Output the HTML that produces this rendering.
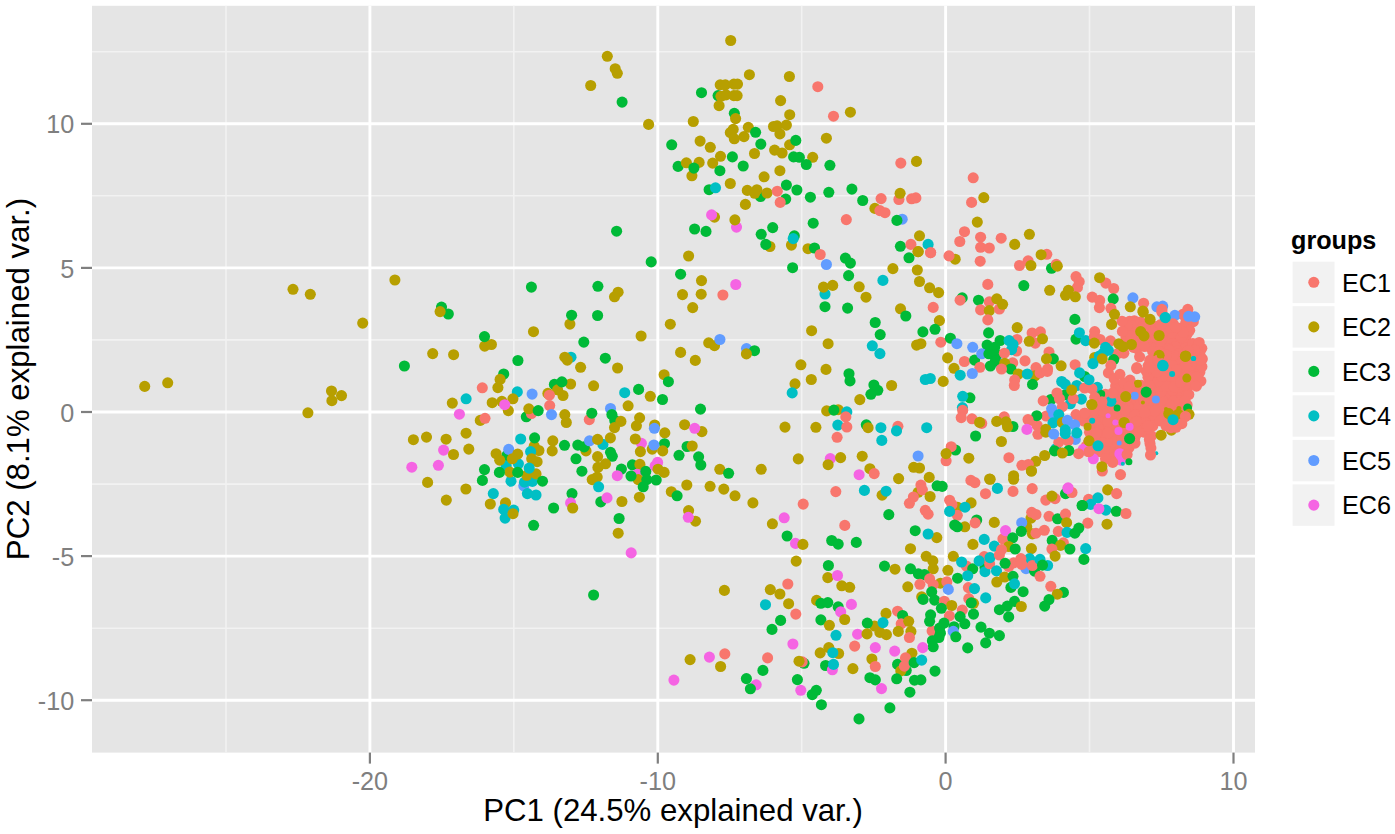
<!DOCTYPE html><html><head><meta charset="utf-8"><style>html,body{margin:0;padding:0;background:#fff}svg{display:block}text{font-family:"Liberation Sans",sans-serif}</style></head><body>
<svg width="1395" height="834" viewBox="0 0 1395 834">
<rect width="1395" height="834" fill="#fff"/>
<rect x="92.0" y="5.8" width="1163.0" height="746.8000000000001" fill="#E5E5E5"/>
<g stroke="#F2F2F2" stroke-width="1.6">
<line x1="226.0" x2="226.0" y1="5.8" y2="752.6"/>
<line x1="513.8" x2="513.8" y1="5.8" y2="752.6"/>
<line x1="801.7" x2="801.7" y1="5.8" y2="752.6"/>
<line x1="1089.5" x2="1089.5" y1="5.8" y2="752.6"/>
<line y1="51.7" y2="51.7" x1="92.0" x2="1255.0"/>
<line y1="195.8" y2="195.8" x1="92.0" x2="1255.0"/>
<line y1="339.9" y2="339.9" x1="92.0" x2="1255.0"/>
<line y1="484.1" y2="484.1" x1="92.0" x2="1255.0"/>
<line y1="628.2" y2="628.2" x1="92.0" x2="1255.0"/>
</g>
<g stroke="#FFFFFF" stroke-width="2.9">
<line x1="369.9" x2="369.9" y1="5.8" y2="752.6"/>
<line x1="657.8" x2="657.8" y1="5.8" y2="752.6"/>
<line x1="945.6" x2="945.6" y1="5.8" y2="752.6"/>
<line x1="1233.5" x2="1233.5" y1="5.8" y2="752.6"/>
<line y1="123.8" y2="123.8" x1="92.0" x2="1255.0"/>
<line y1="267.9" y2="267.9" x1="92.0" x2="1255.0"/>
<line y1="412.0" y2="412.0" x1="92.0" x2="1255.0"/>
<line y1="556.1" y2="556.1" x1="92.0" x2="1255.0"/>
<line y1="700.2" y2="700.2" x1="92.0" x2="1255.0"/>
</g>
<g stroke="#7F7F7F" stroke-width="2.2">
<line x1="369.9" x2="369.9" y1="752.6" y2="763.6"/>
<line x1="657.8" x2="657.8" y1="752.6" y2="763.6"/>
<line x1="945.6" x2="945.6" y1="752.6" y2="763.6"/>
<line x1="1233.5" x2="1233.5" y1="752.6" y2="763.6"/>
<line y1="123.8" y2="123.8" x1="81.0" x2="92.0"/>
<line y1="267.9" y2="267.9" x1="81.0" x2="92.0"/>
<line y1="412.0" y2="412.0" x1="81.0" x2="92.0"/>
<line y1="556.1" y2="556.1" x1="81.0" x2="92.0"/>
<line y1="700.2" y2="700.2" x1="81.0" x2="92.0"/>
</g>
<g fill="#7F7F7F" font-size="25.2">
<text x="369.9" y="790.3" text-anchor="middle">-20</text>
<text x="657.8" y="790.3" text-anchor="middle">-10</text>
<text x="945.6" y="790.3" text-anchor="middle">0</text>
<text x="1233.5" y="790.3" text-anchor="middle">10</text>
<text x="74.2" y="133.3" text-anchor="end">10</text>
<text x="74.2" y="277.5" text-anchor="end">5</text>
<text x="74.2" y="421.6" text-anchor="end">0</text>
<text x="74.2" y="565.7" text-anchor="end">-5</text>
<text x="74.2" y="709.9" text-anchor="end">-10</text>
</g>
<text x="673" y="820.6" font-size="31.2" text-anchor="middle" fill="#000">PC1 (24.5% explained var.)</text>
<text transform="translate(28.5,379) rotate(-90)" font-size="31.2" text-anchor="middle" fill="#000">PC2 (8.1% explained var.)</text>
<text x="1291" y="248.5" font-size="25.2" font-weight="bold" fill="#000">groups</text>
<rect x="1292.6" y="261.7" width="41.9" height="41.4" fill="#F2F2F2"/>
<circle cx="1313.8" cy="282.3" r="5.55" fill="#F8766D"/>
<text x="1342" y="291.5" font-size="25.2" fill="#000">EC1</text>
<rect x="1292.6" y="306.2" width="41.9" height="41.4" fill="#F2F2F2"/>
<circle cx="1313.8" cy="326.9" r="5.55" fill="#B79F00"/>
<text x="1342" y="336.1" font-size="25.2" fill="#000">EC2</text>
<rect x="1292.6" y="350.8" width="41.9" height="41.4" fill="#F2F2F2"/>
<circle cx="1313.8" cy="371.4" r="5.55" fill="#00BA38"/>
<text x="1342" y="380.6" font-size="25.2" fill="#000">EC3</text>
<rect x="1292.6" y="395.3" width="41.9" height="41.4" fill="#F2F2F2"/>
<circle cx="1313.8" cy="415.9" r="5.55" fill="#00BFC4"/>
<text x="1342" y="425.1" font-size="25.2" fill="#000">EC4</text>
<rect x="1292.6" y="439.9" width="41.9" height="41.4" fill="#F2F2F2"/>
<circle cx="1313.8" cy="460.5" r="5.55" fill="#619CFF"/>
<text x="1342" y="469.7" font-size="25.2" fill="#000">EC5</text>
<rect x="1292.6" y="484.4" width="41.9" height="41.4" fill="#F2F2F2"/>
<circle cx="1313.8" cy="505.1" r="5.55" fill="#F564E3"/>
<text x="1342" y="514.2" font-size="25.2" fill="#000">EC6</text>
<g>
<circle cx="1133.5" cy="347.4" r="5.55" fill="#F8766D"/>
<circle cx="1187.7" cy="333.1" r="5.55" fill="#F8766D"/>
<circle cx="1157.2" cy="326.4" r="5.55" fill="#F8766D"/>
<circle cx="1140.5" cy="322.0" r="5.55" fill="#F8766D"/>
<circle cx="1137.5" cy="326.8" r="5.55" fill="#F8766D"/>
<circle cx="1167.9" cy="358.6" r="5.55" fill="#F8766D"/>
<circle cx="1182.6" cy="362.9" r="5.55" fill="#F8766D"/>
<circle cx="1161.2" cy="338.7" r="5.55" fill="#F8766D"/>
<circle cx="1149.4" cy="326.5" r="5.55" fill="#F8766D"/>
<circle cx="1134.3" cy="320.7" r="5.55" fill="#F8766D"/>
<circle cx="1176.4" cy="362.6" r="5.55" fill="#F8766D"/>
<circle cx="1151.6" cy="338.6" r="5.55" fill="#F8766D"/>
<circle cx="1153.2" cy="341.2" r="5.55" fill="#F8766D"/>
<circle cx="1169.3" cy="338.1" r="5.55" fill="#F8766D"/>
<circle cx="1142.8" cy="327.0" r="5.55" fill="#F8766D"/>
<circle cx="1172.7" cy="337.3" r="5.55" fill="#F8766D"/>
<circle cx="1177.8" cy="343.5" r="5.55" fill="#F8766D"/>
<circle cx="1189.7" cy="352.5" r="5.55" fill="#F8766D"/>
<circle cx="1180.7" cy="346.8" r="5.55" fill="#F8766D"/>
<circle cx="1126.0" cy="337.5" r="5.55" fill="#F8766D"/>
<circle cx="1172.0" cy="351.5" r="5.55" fill="#F8766D"/>
<circle cx="1185.9" cy="336.7" r="5.55" fill="#F8766D"/>
<circle cx="1189.2" cy="362.2" r="5.55" fill="#F8766D"/>
<circle cx="1134.7" cy="342.9" r="5.55" fill="#F8766D"/>
<circle cx="1182.9" cy="341.1" r="5.55" fill="#F8766D"/>
<circle cx="1174.0" cy="357.9" r="5.55" fill="#F8766D"/>
<circle cx="1128.5" cy="332.3" r="5.55" fill="#F8766D"/>
<circle cx="1129.6" cy="321.3" r="5.55" fill="#F8766D"/>
<circle cx="1170.5" cy="362.8" r="5.55" fill="#F8766D"/>
<circle cx="1131.0" cy="325.5" r="5.55" fill="#F8766D"/>
<circle cx="1146.6" cy="341.0" r="5.55" fill="#F8766D"/>
<circle cx="1165.6" cy="343.2" r="5.55" fill="#F8766D"/>
<circle cx="1172.3" cy="343.2" r="5.55" fill="#F8766D"/>
<circle cx="1160.3" cy="352.6" r="5.55" fill="#F8766D"/>
<circle cx="1127.3" cy="325.5" r="5.55" fill="#F8766D"/>
<circle cx="1175.2" cy="346.7" r="5.55" fill="#F8766D"/>
<circle cx="1186.8" cy="357.4" r="5.55" fill="#F8766D"/>
<circle cx="1179.3" cy="358.5" r="5.55" fill="#F8766D"/>
<circle cx="1162.6" cy="326.9" r="5.55" fill="#F8766D"/>
<circle cx="1144.2" cy="338.2" r="5.55" fill="#F8766D"/>
<circle cx="1186.0" cy="369.7" r="5.55" fill="#F8766D"/>
<circle cx="1167.8" cy="327.9" r="5.55" fill="#F8766D"/>
<circle cx="1175.2" cy="367.3" r="5.55" fill="#F8766D"/>
<circle cx="1179.2" cy="368.2" r="5.55" fill="#F8766D"/>
<circle cx="1178.7" cy="352.8" r="5.55" fill="#F8766D"/>
<circle cx="1135.2" cy="332.7" r="5.55" fill="#F8766D"/>
<circle cx="1176.2" cy="332.9" r="5.55" fill="#F8766D"/>
<circle cx="1137.1" cy="348.7" r="5.55" fill="#F8766D"/>
<circle cx="1138.9" cy="336.3" r="5.55" fill="#F8766D"/>
<circle cx="1185.7" cy="347.8" r="5.55" fill="#F8766D"/>
<circle cx="1151.0" cy="347.8" r="5.55" fill="#F8766D"/>
<circle cx="1161.5" cy="346.5" r="5.55" fill="#F8766D"/>
<circle cx="1148.0" cy="330.6" r="5.55" fill="#F8766D"/>
<circle cx="1183.6" cy="333.4" r="5.55" fill="#F8766D"/>
<circle cx="1182.0" cy="352.8" r="5.55" fill="#F8766D"/>
<circle cx="1131.0" cy="336.1" r="5.55" fill="#F8766D"/>
<circle cx="1142.6" cy="331.9" r="5.55" fill="#F8766D"/>
<circle cx="1160.1" cy="333.5" r="5.55" fill="#F8766D"/>
<circle cx="1155.4" cy="347.8" r="5.55" fill="#F8766D"/>
<circle cx="1161.8" cy="358.5" r="5.55" fill="#F8766D"/>
<circle cx="1181.1" cy="337.0" r="5.55" fill="#F8766D"/>
<circle cx="1153.0" cy="331.6" r="5.55" fill="#F8766D"/>
<circle cx="1168.1" cy="348.5" r="5.55" fill="#F8766D"/>
<circle cx="1122.4" cy="331.4" r="5.55" fill="#F8766D"/>
<circle cx="1171.1" cy="332.8" r="5.55" fill="#F8766D"/>
<circle cx="1156.3" cy="337.9" r="5.55" fill="#F8766D"/>
<circle cx="1179.9" cy="328.2" r="5.55" fill="#F8766D"/>
<circle cx="1142.3" cy="341.3" r="5.55" fill="#F8766D"/>
<circle cx="1144.5" cy="346.5" r="5.55" fill="#F8766D"/>
<circle cx="1163.9" cy="331.3" r="5.55" fill="#F8766D"/>
<circle cx="1160.5" cy="341.5" r="5.55" fill="#F8766D"/>
<circle cx="1164.0" cy="352.6" r="5.55" fill="#F8766D"/>
<circle cx="1122.0" cy="321.2" r="5.55" fill="#F8766D"/>
<circle cx="1201.8" cy="348.3" r="5.55" fill="#F8766D"/>
<circle cx="1192.9" cy="343.6" r="5.55" fill="#F8766D"/>
<circle cx="1197.0" cy="347.3" r="5.55" fill="#F8766D"/>
<circle cx="1199.2" cy="342.5" r="5.55" fill="#F8766D"/>
<circle cx="1202.3" cy="359.0" r="5.55" fill="#F8766D"/>
<circle cx="1192.2" cy="364.2" r="5.55" fill="#F8766D"/>
<circle cx="1200.3" cy="356.0" r="5.55" fill="#F8766D"/>
<circle cx="1193.9" cy="355.6" r="5.55" fill="#F8766D"/>
<circle cx="1190.4" cy="358.9" r="5.55" fill="#F8766D"/>
<circle cx="1196.9" cy="361.5" r="5.55" fill="#F8766D"/>
<circle cx="1168.4" cy="412.6" r="5.55" fill="#F8766D"/>
<circle cx="1131.9" cy="410.7" r="5.55" fill="#F8766D"/>
<circle cx="1117.2" cy="396.8" r="5.55" fill="#F8766D"/>
<circle cx="1166.5" cy="391.6" r="5.55" fill="#F8766D"/>
<circle cx="1112.5" cy="422.1" r="5.55" fill="#F8766D"/>
<circle cx="1098.4" cy="438.6" r="5.55" fill="#F8766D"/>
<circle cx="1114.7" cy="453.2" r="5.55" fill="#F8766D"/>
<circle cx="1151.7" cy="386.6" r="5.55" fill="#F8766D"/>
<circle cx="1103.7" cy="437.3" r="5.55" fill="#F8766D"/>
<circle cx="1111.5" cy="407.3" r="5.55" fill="#F8766D"/>
<circle cx="1190.1" cy="380.8" r="5.55" fill="#F8766D"/>
<circle cx="1116.1" cy="447.3" r="5.55" fill="#F8766D"/>
<circle cx="1120.3" cy="411.0" r="5.55" fill="#F8766D"/>
<circle cx="1096.1" cy="451.3" r="5.55" fill="#F8766D"/>
<circle cx="1107.1" cy="412.5" r="5.55" fill="#F8766D"/>
<circle cx="1131.6" cy="422.7" r="5.55" fill="#F8766D"/>
<circle cx="1182.7" cy="386.5" r="5.55" fill="#F8766D"/>
<circle cx="1169.2" cy="417.8" r="5.55" fill="#F8766D"/>
<circle cx="1141.2" cy="416.2" r="5.55" fill="#F8766D"/>
<circle cx="1170.2" cy="384.1" r="5.55" fill="#F8766D"/>
<circle cx="1144.6" cy="432.3" r="5.55" fill="#F8766D"/>
<circle cx="1150.8" cy="420.8" r="5.55" fill="#F8766D"/>
<circle cx="1122.7" cy="395.1" r="5.55" fill="#F8766D"/>
<circle cx="1150.0" cy="443.4" r="5.55" fill="#F8766D"/>
<circle cx="1091.4" cy="446.1" r="5.55" fill="#F8766D"/>
<circle cx="1086.1" cy="446.4" r="5.55" fill="#F8766D"/>
<circle cx="1134.7" cy="385.8" r="5.55" fill="#F8766D"/>
<circle cx="1100.0" cy="451.7" r="5.55" fill="#F8766D"/>
<circle cx="1105.0" cy="448.4" r="5.55" fill="#F8766D"/>
<circle cx="1128.3" cy="438.2" r="5.55" fill="#F8766D"/>
<circle cx="1180.7" cy="401.4" r="5.55" fill="#F8766D"/>
<circle cx="1114.3" cy="401.3" r="5.55" fill="#F8766D"/>
<circle cx="1116.3" cy="457.2" r="5.55" fill="#F8766D"/>
<circle cx="1130.4" cy="401.0" r="5.55" fill="#F8766D"/>
<circle cx="1109.5" cy="415.1" r="5.55" fill="#F8766D"/>
<circle cx="1153.0" cy="396.8" r="5.55" fill="#F8766D"/>
<circle cx="1122.5" cy="414.9" r="5.55" fill="#F8766D"/>
<circle cx="1122.9" cy="384.4" r="5.55" fill="#F8766D"/>
<circle cx="1139.0" cy="411.8" r="5.55" fill="#F8766D"/>
<circle cx="1102.3" cy="431.8" r="5.55" fill="#F8766D"/>
<circle cx="1146.8" cy="417.8" r="5.55" fill="#F8766D"/>
<circle cx="1165.5" cy="405.6" r="5.55" fill="#F8766D"/>
<circle cx="1099.4" cy="395.8" r="5.55" fill="#F8766D"/>
<circle cx="1083.9" cy="421.0" r="5.55" fill="#F8766D"/>
<circle cx="1104.1" cy="416.2" r="5.55" fill="#F8766D"/>
<circle cx="1148.6" cy="390.3" r="5.55" fill="#F8766D"/>
<circle cx="1110.1" cy="395.2" r="5.55" fill="#F8766D"/>
<circle cx="1092.8" cy="436.4" r="5.55" fill="#F8766D"/>
<circle cx="1168.2" cy="422.7" r="5.55" fill="#F8766D"/>
<circle cx="1135.9" cy="404.7" r="5.55" fill="#F8766D"/>
<circle cx="1100.7" cy="400.8" r="5.55" fill="#F8766D"/>
<circle cx="1088.2" cy="451.5" r="5.55" fill="#F8766D"/>
<circle cx="1178.9" cy="412.6" r="5.55" fill="#F8766D"/>
<circle cx="1093.6" cy="427.2" r="5.55" fill="#F8766D"/>
<circle cx="1097.4" cy="416.9" r="5.55" fill="#F8766D"/>
<circle cx="1170.7" cy="394.4" r="5.55" fill="#F8766D"/>
<circle cx="1174.7" cy="421.5" r="5.55" fill="#F8766D"/>
<circle cx="1116.4" cy="437.0" r="5.55" fill="#F8766D"/>
<circle cx="1177.1" cy="407.2" r="5.55" fill="#F8766D"/>
<circle cx="1104.8" cy="427.6" r="5.55" fill="#F8766D"/>
<circle cx="1111.6" cy="438.4" r="5.55" fill="#F8766D"/>
<circle cx="1115.6" cy="385.9" r="5.55" fill="#F8766D"/>
<circle cx="1140.4" cy="396.4" r="5.55" fill="#F8766D"/>
<circle cx="1102.0" cy="422.4" r="5.55" fill="#F8766D"/>
<circle cx="1172.7" cy="411.2" r="5.55" fill="#F8766D"/>
<circle cx="1177.6" cy="417.2" r="5.55" fill="#F8766D"/>
<circle cx="1155.6" cy="389.6" r="5.55" fill="#F8766D"/>
<circle cx="1156.1" cy="420.3" r="5.55" fill="#F8766D"/>
<circle cx="1109.1" cy="447.6" r="5.55" fill="#F8766D"/>
<circle cx="1120.7" cy="441.1" r="5.55" fill="#F8766D"/>
<circle cx="1121.9" cy="457.2" r="5.55" fill="#F8766D"/>
<circle cx="1089.5" cy="432.3" r="5.55" fill="#F8766D"/>
<circle cx="1098.3" cy="427.6" r="5.55" fill="#F8766D"/>
<circle cx="1181.5" cy="406.2" r="5.55" fill="#F8766D"/>
<circle cx="1146.8" cy="394.3" r="5.55" fill="#F8766D"/>
<circle cx="1156.2" cy="400.3" r="5.55" fill="#F8766D"/>
<circle cx="1168.1" cy="402.1" r="5.55" fill="#F8766D"/>
<circle cx="1124.1" cy="441.5" r="5.55" fill="#F8766D"/>
<circle cx="1189.5" cy="384.3" r="5.55" fill="#F8766D"/>
<circle cx="1126.4" cy="421.3" r="5.55" fill="#F8766D"/>
<circle cx="1159.2" cy="415.6" r="5.55" fill="#F8766D"/>
<circle cx="1107.6" cy="402.0" r="5.55" fill="#F8766D"/>
<circle cx="1127.8" cy="427.1" r="5.55" fill="#F8766D"/>
<circle cx="1115.3" cy="415.5" r="5.55" fill="#F8766D"/>
<circle cx="1119.5" cy="399.6" r="5.55" fill="#F8766D"/>
<circle cx="1097.6" cy="447.6" r="5.55" fill="#F8766D"/>
<circle cx="1103.0" cy="406.7" r="5.55" fill="#F8766D"/>
<circle cx="1126.6" cy="400.9" r="5.55" fill="#F8766D"/>
<circle cx="1157.7" cy="396.9" r="5.55" fill="#F8766D"/>
<circle cx="1147.7" cy="386.0" r="5.55" fill="#F8766D"/>
<circle cx="1177.6" cy="395.0" r="5.55" fill="#F8766D"/>
<circle cx="1165.2" cy="395.7" r="5.55" fill="#F8766D"/>
<circle cx="1127.3" cy="415.3" r="5.55" fill="#F8766D"/>
<circle cx="1148.2" cy="432.6" r="5.55" fill="#F8766D"/>
<circle cx="1154.4" cy="381.0" r="5.55" fill="#F8766D"/>
<circle cx="1129.8" cy="395.2" r="5.55" fill="#F8766D"/>
<circle cx="1151.0" cy="404.9" r="5.55" fill="#F8766D"/>
<circle cx="1135.1" cy="415.1" r="5.55" fill="#F8766D"/>
<circle cx="1123.4" cy="426.0" r="5.55" fill="#F8766D"/>
<circle cx="1173.9" cy="400.9" r="5.55" fill="#F8766D"/>
<circle cx="1112.8" cy="441.9" r="5.55" fill="#F8766D"/>
<circle cx="1136.3" cy="391.1" r="5.55" fill="#F8766D"/>
<circle cx="1095.1" cy="410.8" r="5.55" fill="#F8766D"/>
<circle cx="1131.1" cy="391.8" r="5.55" fill="#F8766D"/>
<circle cx="1132.5" cy="431.3" r="5.55" fill="#F8766D"/>
<circle cx="1120.5" cy="389.9" r="5.55" fill="#F8766D"/>
<circle cx="1085.1" cy="415.0" r="5.55" fill="#F8766D"/>
<circle cx="1153.3" cy="415.2" r="5.55" fill="#F8766D"/>
<circle cx="1150.2" cy="381.2" r="5.55" fill="#F8766D"/>
<circle cx="1181.5" cy="394.5" r="5.55" fill="#F8766D"/>
<circle cx="1121.3" cy="447.0" r="5.55" fill="#F8766D"/>
<circle cx="1143.0" cy="421.2" r="5.55" fill="#F8766D"/>
<circle cx="1140.6" cy="428.2" r="5.55" fill="#F8766D"/>
<circle cx="1161.4" cy="412.6" r="5.55" fill="#F8766D"/>
<circle cx="1105.5" cy="394.2" r="5.55" fill="#F8766D"/>
<circle cx="1152.9" cy="425.8" r="5.55" fill="#F8766D"/>
<circle cx="1184.4" cy="380.7" r="5.55" fill="#F8766D"/>
<circle cx="1164.1" cy="417.1" r="5.55" fill="#F8766D"/>
<circle cx="1081.9" cy="416.1" r="5.55" fill="#F8766D"/>
<circle cx="1149.4" cy="411.0" r="5.55" fill="#F8766D"/>
<circle cx="1100.8" cy="442.8" r="5.55" fill="#F8766D"/>
<circle cx="1095.3" cy="421.7" r="5.55" fill="#F8766D"/>
<circle cx="1147.6" cy="405.0" r="5.55" fill="#F8766D"/>
<circle cx="1137.1" cy="399.5" r="5.55" fill="#F8766D"/>
<circle cx="1151.5" cy="435.8" r="5.55" fill="#F8766D"/>
<circle cx="1092.7" cy="415.0" r="5.55" fill="#F8766D"/>
<circle cx="1096.9" cy="401.4" r="5.55" fill="#F8766D"/>
<circle cx="1169.4" cy="404.9" r="5.55" fill="#F8766D"/>
<circle cx="1088.4" cy="442.8" r="5.55" fill="#F8766D"/>
<circle cx="1120.1" cy="430.7" r="5.55" fill="#F8766D"/>
<circle cx="1143.4" cy="389.3" r="5.55" fill="#F8766D"/>
<circle cx="1179.4" cy="390.5" r="5.55" fill="#F8766D"/>
<circle cx="1124.1" cy="389.3" r="5.55" fill="#F8766D"/>
<circle cx="1091.0" cy="422.6" r="5.55" fill="#F8766D"/>
<circle cx="1140.0" cy="404.7" r="5.55" fill="#F8766D"/>
<circle cx="1119.3" cy="422.9" r="5.55" fill="#F8766D"/>
<circle cx="1158.6" cy="405.7" r="5.55" fill="#F8766D"/>
<circle cx="1147.9" cy="425.9" r="5.55" fill="#F8766D"/>
<circle cx="1187.1" cy="404.9" r="5.55" fill="#F8766D"/>
<circle cx="1157.4" cy="384.9" r="5.55" fill="#F8766D"/>
<circle cx="1128.8" cy="385.3" r="5.55" fill="#F8766D"/>
<circle cx="1126.0" cy="432.1" r="5.55" fill="#F8766D"/>
<circle cx="1095.0" cy="441.7" r="5.55" fill="#F8766D"/>
<circle cx="1134.8" cy="437.7" r="5.55" fill="#F8766D"/>
<circle cx="1125.1" cy="452.9" r="5.55" fill="#F8766D"/>
<circle cx="1134.5" cy="395.0" r="5.55" fill="#F8766D"/>
<circle cx="1122.1" cy="438.1" r="5.55" fill="#F8766D"/>
<circle cx="1141.3" cy="385.4" r="5.55" fill="#F8766D"/>
<circle cx="1107.4" cy="441.5" r="5.55" fill="#F8766D"/>
<circle cx="1113.8" cy="430.7" r="5.55" fill="#F8766D"/>
<circle cx="1132.3" cy="441.8" r="5.55" fill="#F8766D"/>
<circle cx="1154.8" cy="411.0" r="5.55" fill="#F8766D"/>
<circle cx="1102.4" cy="410.9" r="5.55" fill="#F8766D"/>
<circle cx="1144.7" cy="412.6" r="5.55" fill="#F8766D"/>
<circle cx="1114.1" cy="411.3" r="5.55" fill="#F8766D"/>
<circle cx="1135.7" cy="427.6" r="5.55" fill="#F8766D"/>
<circle cx="1136.5" cy="433.3" r="5.55" fill="#F8766D"/>
<circle cx="1186.0" cy="390.4" r="5.55" fill="#F8766D"/>
<circle cx="1163.3" cy="386.0" r="5.55" fill="#F8766D"/>
<circle cx="1100.0" cy="405.0" r="5.55" fill="#F8766D"/>
<circle cx="1115.6" cy="406.6" r="5.55" fill="#F8766D"/>
<circle cx="1188.8" cy="394.5" r="5.55" fill="#F8766D"/>
<circle cx="1108.1" cy="451.8" r="5.55" fill="#F8766D"/>
<circle cx="1127.8" cy="406.6" r="5.55" fill="#F8766D"/>
<circle cx="1175.1" cy="385.1" r="5.55" fill="#F8766D"/>
<circle cx="1150.0" cy="400.3" r="5.55" fill="#F8766D"/>
<circle cx="1096.5" cy="433.1" r="5.55" fill="#F8766D"/>
<circle cx="1116.5" cy="427.3" r="5.55" fill="#F8766D"/>
<circle cx="1129.0" cy="447.7" r="5.55" fill="#F8766D"/>
<circle cx="1136.5" cy="421.4" r="5.55" fill="#F8766D"/>
<circle cx="1172.6" cy="390.4" r="5.55" fill="#F8766D"/>
<circle cx="1109.5" cy="425.4" r="5.55" fill="#F8766D"/>
<circle cx="1185.1" cy="401.3" r="5.55" fill="#F8766D"/>
<circle cx="1108.0" cy="433.1" r="5.55" fill="#F8766D"/>
<circle cx="1111.9" cy="457.9" r="5.55" fill="#F8766D"/>
<circle cx="1121.6" cy="404.9" r="5.55" fill="#F8766D"/>
<circle cx="1125.3" cy="409.8" r="5.55" fill="#F8766D"/>
<circle cx="1107.9" cy="421.5" r="5.55" fill="#F8766D"/>
<circle cx="1144.3" cy="401.2" r="5.55" fill="#F8766D"/>
<circle cx="1160.2" cy="420.9" r="5.55" fill="#F8766D"/>
<circle cx="1130.0" cy="380.1" r="5.55" fill="#F8766D"/>
<circle cx="1162.0" cy="399.8" r="5.55" fill="#F8766D"/>
<circle cx="1118.8" cy="452.4" r="5.55" fill="#F8766D"/>
<circle cx="1160.9" cy="391.7" r="5.55" fill="#F8766D"/>
<circle cx="1181.9" cy="359.1" r="5.55" fill="#F8766D"/>
<circle cx="1166.1" cy="365.6" r="5.55" fill="#F8766D"/>
<circle cx="1152.7" cy="351.4" r="5.55" fill="#F8766D"/>
<circle cx="1159.0" cy="351.3" r="5.55" fill="#F8766D"/>
<circle cx="1189.1" cy="370.9" r="5.55" fill="#F8766D"/>
<circle cx="1162.0" cy="365.6" r="5.55" fill="#F8766D"/>
<circle cx="1153.4" cy="361.5" r="5.55" fill="#F8766D"/>
<circle cx="1196.5" cy="367.1" r="5.55" fill="#F8766D"/>
<circle cx="1179.1" cy="387.4" r="5.55" fill="#F8766D"/>
<circle cx="1156.0" cy="375.3" r="5.55" fill="#F8766D"/>
<circle cx="1152.1" cy="381.9" r="5.55" fill="#F8766D"/>
<circle cx="1166.4" cy="376.1" r="5.55" fill="#F8766D"/>
<circle cx="1194.9" cy="370.3" r="5.55" fill="#F8766D"/>
<circle cx="1164.6" cy="382.1" r="5.55" fill="#F8766D"/>
<circle cx="1152.2" cy="371.0" r="5.55" fill="#F8766D"/>
<circle cx="1200.9" cy="381.1" r="5.55" fill="#F8766D"/>
<circle cx="1164.9" cy="359.6" r="5.55" fill="#F8766D"/>
<circle cx="1179.2" cy="366.0" r="5.55" fill="#F8766D"/>
<circle cx="1176.0" cy="359.5" r="5.55" fill="#F8766D"/>
<circle cx="1195.6" cy="354.0" r="5.55" fill="#F8766D"/>
<circle cx="1168.7" cy="369.4" r="5.55" fill="#F8766D"/>
<circle cx="1168.8" cy="361.0" r="5.55" fill="#F8766D"/>
<circle cx="1189.8" cy="365.7" r="5.55" fill="#F8766D"/>
<circle cx="1191.1" cy="356.7" r="5.55" fill="#F8766D"/>
<circle cx="1194.7" cy="350.1" r="5.55" fill="#F8766D"/>
<circle cx="1174.0" cy="376.5" r="5.55" fill="#F8766D"/>
<circle cx="1199.9" cy="372.1" r="5.55" fill="#F8766D"/>
<circle cx="1194.2" cy="361.0" r="5.55" fill="#F8766D"/>
<circle cx="1177.5" cy="351.0" r="5.55" fill="#F8766D"/>
<circle cx="1159.7" cy="386.0" r="5.55" fill="#F8766D"/>
<circle cx="1179.3" cy="353.9" r="5.55" fill="#F8766D"/>
<circle cx="1170.0" cy="382.2" r="5.55" fill="#F8766D"/>
<circle cx="1172.3" cy="365.6" r="5.55" fill="#F8766D"/>
<circle cx="1192.2" cy="376.4" r="5.55" fill="#F8766D"/>
<circle cx="1179.5" cy="375.9" r="5.55" fill="#F8766D"/>
<circle cx="1166.5" cy="386.2" r="5.55" fill="#F8766D"/>
<circle cx="1187.5" cy="359.8" r="5.55" fill="#F8766D"/>
<circle cx="1188.3" cy="350.5" r="5.55" fill="#F8766D"/>
<circle cx="1181.8" cy="370.7" r="5.55" fill="#F8766D"/>
<circle cx="1154.0" cy="387.2" r="5.55" fill="#F8766D"/>
<circle cx="1189.7" cy="385.2" r="5.55" fill="#F8766D"/>
<circle cx="1188.2" cy="382.6" r="5.55" fill="#F8766D"/>
<circle cx="1148.1" cy="365.8" r="5.55" fill="#F8766D"/>
<circle cx="1148.0" cy="377.2" r="5.55" fill="#F8766D"/>
<circle cx="1173.5" cy="355.1" r="5.55" fill="#F8766D"/>
<circle cx="1201.9" cy="366.7" r="5.55" fill="#F8766D"/>
<circle cx="1175.8" cy="381.2" r="5.55" fill="#F8766D"/>
<circle cx="1176.5" cy="370.0" r="5.55" fill="#F8766D"/>
<circle cx="1185.7" cy="365.7" r="5.55" fill="#F8766D"/>
<circle cx="1157.7" cy="381.6" r="5.55" fill="#F8766D"/>
<circle cx="1153.6" cy="367.1" r="5.55" fill="#F8766D"/>
<circle cx="1154.8" cy="356.4" r="5.55" fill="#F8766D"/>
<circle cx="1184.5" cy="377.2" r="5.55" fill="#F8766D"/>
<circle cx="1169.2" cy="350.3" r="5.55" fill="#F8766D"/>
<circle cx="1162.9" cy="369.5" r="5.55" fill="#F8766D"/>
<circle cx="1195.1" cy="382.3" r="5.55" fill="#F8766D"/>
<circle cx="1174.1" cy="386.8" r="5.55" fill="#F8766D"/>
<circle cx="1146.3" cy="371.3" r="5.55" fill="#F8766D"/>
<circle cx="1149.7" cy="385.9" r="5.55" fill="#F8766D"/>
<circle cx="1196.7" cy="376.7" r="5.55" fill="#F8766D"/>
<circle cx="1161.8" cy="376.5" r="5.55" fill="#F8766D"/>
<circle cx="1201.2" cy="360.1" r="5.55" fill="#F8766D"/>
<circle cx="1196.4" cy="386.2" r="5.55" fill="#F8766D"/>
<circle cx="1159.1" cy="359.7" r="5.55" fill="#F8766D"/>
<circle cx="1160.7" cy="356.7" r="5.55" fill="#F8766D"/>
<circle cx="1185.1" cy="385.4" r="5.55" fill="#F8766D"/>
<circle cx="1156.8" cy="371.8" r="5.55" fill="#F8766D"/>
<circle cx="1180.6" cy="382.4" r="5.55" fill="#F8766D"/>
<circle cx="1166.4" cy="355.1" r="5.55" fill="#F8766D"/>
<circle cx="1185.3" cy="356.6" r="5.55" fill="#F8766D"/>
<circle cx="144.7" cy="386.4" r="5.55" fill="#B79F00"/>
<circle cx="167.7" cy="382.8" r="5.55" fill="#B79F00"/>
<circle cx="293.0" cy="289.3" r="5.55" fill="#B79F00"/>
<circle cx="310.3" cy="294.3" r="5.55" fill="#B79F00"/>
<circle cx="362.7" cy="323.1" r="5.55" fill="#B79F00"/>
<circle cx="394.9" cy="280.0" r="5.55" fill="#B79F00"/>
<circle cx="331.5" cy="391.0" r="5.55" fill="#B79F00"/>
<circle cx="341.5" cy="395.6" r="5.55" fill="#B79F00"/>
<circle cx="331.9" cy="400.7" r="5.55" fill="#B79F00"/>
<circle cx="307.9" cy="412.8" r="5.55" fill="#B79F00"/>
<circle cx="404.4" cy="366.0" r="5.55" fill="#00BA38"/>
<circle cx="441.5" cy="307.1" r="5.55" fill="#00BA38"/>
<circle cx="448.3" cy="314.0" r="5.55" fill="#00BA38"/>
<circle cx="440.1" cy="311.6" r="5.55" fill="#B79F00"/>
<circle cx="531.4" cy="287.1" r="5.55" fill="#00BA38"/>
<circle cx="569.9" cy="324.1" r="5.55" fill="#B79F00"/>
<circle cx="571.6" cy="315.2" r="5.55" fill="#00BA38"/>
<circle cx="533.5" cy="331.7" r="5.55" fill="#B79F00"/>
<circle cx="484.7" cy="346.1" r="5.55" fill="#B79F00"/>
<circle cx="491.4" cy="344.5" r="5.55" fill="#B79F00"/>
<circle cx="484.5" cy="336.6" r="5.55" fill="#00BA38"/>
<circle cx="583.8" cy="342.1" r="5.55" fill="#00BA38"/>
<circle cx="432.7" cy="353.6" r="5.55" fill="#B79F00"/>
<circle cx="453.6" cy="354.7" r="5.55" fill="#B79F00"/>
<circle cx="517.9" cy="360.5" r="5.55" fill="#00BA38"/>
<circle cx="571.0" cy="357.2" r="5.55" fill="#00BFC4"/>
<circle cx="564.8" cy="357.2" r="5.55" fill="#B79F00"/>
<circle cx="567.3" cy="360.1" r="5.55" fill="#B79F00"/>
<circle cx="580.6" cy="367.3" r="5.55" fill="#B79F00"/>
<circle cx="482.3" cy="387.8" r="5.55" fill="#F8766D"/>
<circle cx="466.1" cy="398.8" r="5.55" fill="#00BFC4"/>
<circle cx="452.3" cy="403.1" r="5.55" fill="#B79F00"/>
<circle cx="459.4" cy="414.2" r="5.55" fill="#F564E3"/>
<circle cx="480.3" cy="420.4" r="5.55" fill="#B79F00"/>
<circle cx="485.0" cy="418.3" r="5.55" fill="#F8766D"/>
<circle cx="503.7" cy="374.0" r="5.55" fill="#00BA38"/>
<circle cx="497.9" cy="387.6" r="5.55" fill="#B79F00"/>
<circle cx="500.1" cy="379.4" r="5.55" fill="#B79F00"/>
<circle cx="517.3" cy="391.9" r="5.55" fill="#00BFC4"/>
<circle cx="512.9" cy="398.8" r="5.55" fill="#B79F00"/>
<circle cx="501.9" cy="401.3" r="5.55" fill="#B79F00"/>
<circle cx="508.3" cy="410.6" r="5.55" fill="#B79F00"/>
<circle cx="504.7" cy="404.7" r="5.55" fill="#F564E3"/>
<circle cx="492.2" cy="402.7" r="5.55" fill="#B79F00"/>
<circle cx="532.1" cy="394.1" r="5.55" fill="#619CFF"/>
<circle cx="554.4" cy="384.4" r="5.55" fill="#00BA38"/>
<circle cx="570.6" cy="384.0" r="5.55" fill="#B79F00"/>
<circle cx="557.6" cy="389.8" r="5.55" fill="#B79F00"/>
<circle cx="563.0" cy="395.5" r="5.55" fill="#B79F00"/>
<circle cx="561.9" cy="381.9" r="5.55" fill="#00BA38"/>
<circle cx="547.9" cy="393.4" r="5.55" fill="#B79F00"/>
<circle cx="549.7" cy="405.6" r="5.55" fill="#F8766D"/>
<circle cx="549.4" cy="395.2" r="5.55" fill="#F8766D"/>
<circle cx="551.5" cy="414.6" r="5.55" fill="#619CFF"/>
<circle cx="526.3" cy="416.8" r="5.55" fill="#00BA38"/>
<circle cx="531.4" cy="413.5" r="5.55" fill="#F8766D"/>
<circle cx="528.8" cy="408.8" r="5.55" fill="#B79F00"/>
<circle cx="538.2" cy="410.6" r="5.55" fill="#00BA38"/>
<circle cx="564.8" cy="414.6" r="5.55" fill="#B79F00"/>
<circle cx="566.3" cy="422.5" r="5.55" fill="#B79F00"/>
<circle cx="589.3" cy="419.6" r="5.55" fill="#F8766D"/>
<circle cx="413.4" cy="439.7" r="5.55" fill="#B79F00"/>
<circle cx="426.5" cy="437.1" r="5.55" fill="#B79F00"/>
<circle cx="446.1" cy="439.2" r="5.55" fill="#B79F00"/>
<circle cx="466.1" cy="433.2" r="5.55" fill="#B79F00"/>
<circle cx="443.6" cy="450.1" r="5.55" fill="#F564E3"/>
<circle cx="453.5" cy="454.5" r="5.55" fill="#B79F00"/>
<circle cx="468.8" cy="449.1" r="5.55" fill="#B79F00"/>
<circle cx="411.8" cy="467.2" r="5.55" fill="#F564E3"/>
<circle cx="438.4" cy="465.3" r="5.55" fill="#F564E3"/>
<circle cx="427.6" cy="482.4" r="5.55" fill="#B79F00"/>
<circle cx="484.5" cy="469.6" r="5.55" fill="#00BA38"/>
<circle cx="482.4" cy="480.4" r="5.55" fill="#00BA38"/>
<circle cx="465.9" cy="489.0" r="5.55" fill="#B79F00"/>
<circle cx="520.7" cy="439.0" r="5.55" fill="#00BFC4"/>
<circle cx="552.8" cy="440.8" r="5.55" fill="#B79F00"/>
<circle cx="552.2" cy="450.9" r="5.55" fill="#B79F00"/>
<circle cx="564.5" cy="445.3" r="5.55" fill="#00BA38"/>
<circle cx="577.8" cy="445.1" r="5.55" fill="#00BA38"/>
<circle cx="586.0" cy="450.9" r="5.55" fill="#B79F00"/>
<circle cx="584.2" cy="446.9" r="5.55" fill="#00BA38"/>
<circle cx="576.0" cy="458.8" r="5.55" fill="#00BA38"/>
<circle cx="581.9" cy="471.2" r="5.55" fill="#00BA38"/>
<circle cx="506.9" cy="455.5" r="5.55" fill="#00BA38"/>
<circle cx="506.2" cy="466.0" r="5.55" fill="#00BFC4"/>
<circle cx="518.4" cy="463.8" r="5.55" fill="#00BFC4"/>
<circle cx="496.1" cy="453.7" r="5.55" fill="#B79F00"/>
<circle cx="499.7" cy="460.2" r="5.55" fill="#B79F00"/>
<circle cx="508.7" cy="449.4" r="5.55" fill="#619CFF"/>
<circle cx="517.7" cy="454.1" r="5.55" fill="#B79F00"/>
<circle cx="512.3" cy="458.8" r="5.55" fill="#B79F00"/>
<circle cx="511.0" cy="481.2" r="5.55" fill="#00BFC4"/>
<circle cx="523.8" cy="485.8" r="5.55" fill="#619CFF"/>
<circle cx="524.5" cy="482.2" r="5.55" fill="#00BFC4"/>
<circle cx="532.4" cy="481.4" r="5.55" fill="#00BFC4"/>
<circle cx="509.8" cy="472.1" r="5.55" fill="#B79F00"/>
<circle cx="526.7" cy="475.3" r="5.55" fill="#B79F00"/>
<circle cx="536.0" cy="473.9" r="5.55" fill="#B79F00"/>
<circle cx="517.7" cy="472.4" r="5.55" fill="#00BA38"/>
<circle cx="499.4" cy="472.4" r="5.55" fill="#00BA38"/>
<circle cx="542.5" cy="481.2" r="5.55" fill="#00BA38"/>
<circle cx="534.2" cy="446.2" r="5.55" fill="#B79F00"/>
<circle cx="538.9" cy="450.5" r="5.55" fill="#B79F00"/>
<circle cx="534.6" cy="437.9" r="5.55" fill="#00BA38"/>
<circle cx="530.6" cy="451.6" r="5.55" fill="#00BFC4"/>
<circle cx="531.7" cy="458.8" r="5.55" fill="#B79F00"/>
<circle cx="537.1" cy="461.7" r="5.55" fill="#B79F00"/>
<circle cx="529.2" cy="468.1" r="5.55" fill="#00BFC4"/>
<circle cx="446.3" cy="500.1" r="5.55" fill="#B79F00"/>
<circle cx="493.3" cy="493.6" r="5.55" fill="#00BFC4"/>
<circle cx="490.3" cy="504.0" r="5.55" fill="#B79F00"/>
<circle cx="505.5" cy="502.9" r="5.55" fill="#B79F00"/>
<circle cx="503.7" cy="509.4" r="5.55" fill="#00BFC4"/>
<circle cx="513.7" cy="510.1" r="5.55" fill="#00BFC4"/>
<circle cx="505.1" cy="518.1" r="5.55" fill="#00BFC4"/>
<circle cx="513.0" cy="513.7" r="5.55" fill="#B79F00"/>
<circle cx="527.4" cy="493.6" r="5.55" fill="#00BFC4"/>
<circle cx="536.0" cy="495.0" r="5.55" fill="#00BFC4"/>
<circle cx="572.0" cy="493.6" r="5.55" fill="#00BA38"/>
<circle cx="570.6" cy="502.9" r="5.55" fill="#F564E3"/>
<circle cx="572.7" cy="508.0" r="5.55" fill="#B79F00"/>
<circle cx="553.6" cy="508.0" r="5.55" fill="#00BA38"/>
<circle cx="533.6" cy="525.3" r="5.55" fill="#00BA38"/>
<circle cx="607.3" cy="56.3" r="5.55" fill="#B79F00"/>
<circle cx="615.2" cy="68.7" r="5.55" fill="#B79F00"/>
<circle cx="617.3" cy="73.3" r="5.55" fill="#B79F00"/>
<circle cx="590.7" cy="85.5" r="5.55" fill="#B79F00"/>
<circle cx="622.1" cy="102.1" r="5.55" fill="#00BA38"/>
<circle cx="648.6" cy="124.4" r="5.55" fill="#B79F00"/>
<circle cx="730.7" cy="40.5" r="5.55" fill="#B79F00"/>
<circle cx="749.4" cy="74.7" r="5.55" fill="#B79F00"/>
<circle cx="789.4" cy="76.5" r="5.55" fill="#B79F00"/>
<circle cx="701.5" cy="92.7" r="5.55" fill="#00BA38"/>
<circle cx="718.1" cy="95.6" r="5.55" fill="#00BA38"/>
<circle cx="720.2" cy="84.8" r="5.55" fill="#B79F00"/>
<circle cx="725.3" cy="84.8" r="5.55" fill="#B79F00"/>
<circle cx="733.9" cy="84.1" r="5.55" fill="#B79F00"/>
<circle cx="737.5" cy="84.1" r="5.55" fill="#B79F00"/>
<circle cx="720.9" cy="96.3" r="5.55" fill="#B79F00"/>
<circle cx="726.0" cy="94.9" r="5.55" fill="#B79F00"/>
<circle cx="733.9" cy="95.6" r="5.55" fill="#B79F00"/>
<circle cx="737.1" cy="95.6" r="5.55" fill="#B79F00"/>
<circle cx="719.1" cy="105.7" r="5.55" fill="#B79F00"/>
<circle cx="734.3" cy="113.3" r="5.55" fill="#00BA38"/>
<circle cx="735.6" cy="118.6" r="5.55" fill="#B79F00"/>
<circle cx="693.3" cy="121.5" r="5.55" fill="#B79F00"/>
<circle cx="780.6" cy="100.6" r="5.55" fill="#B79F00"/>
<circle cx="733.2" cy="129.4" r="5.55" fill="#B79F00"/>
<circle cx="748.3" cy="127.3" r="5.55" fill="#B79F00"/>
<circle cx="773.5" cy="126.5" r="5.55" fill="#B79F00"/>
<circle cx="777.1" cy="125.8" r="5.55" fill="#B79F00"/>
<circle cx="786.4" cy="125.1" r="5.55" fill="#B79F00"/>
<circle cx="789.7" cy="114.7" r="5.55" fill="#B79F00"/>
<circle cx="671.7" cy="144.8" r="5.55" fill="#00BA38"/>
<circle cx="700.1" cy="141.1" r="5.55" fill="#B79F00"/>
<circle cx="710.3" cy="147.3" r="5.55" fill="#B79F00"/>
<circle cx="720.5" cy="156.3" r="5.55" fill="#B79F00"/>
<circle cx="712.7" cy="163.1" r="5.55" fill="#B79F00"/>
<circle cx="732.4" cy="156.9" r="5.55" fill="#00BA38"/>
<circle cx="719.9" cy="170.7" r="5.55" fill="#00BA38"/>
<circle cx="743.2" cy="166.0" r="5.55" fill="#00BA38"/>
<circle cx="678.1" cy="166.4" r="5.55" fill="#00BA38"/>
<circle cx="686.4" cy="162.8" r="5.55" fill="#B79F00"/>
<circle cx="699.1" cy="162.4" r="5.55" fill="#B79F00"/>
<circle cx="691.9" cy="175.8" r="5.55" fill="#B79F00"/>
<circle cx="693.9" cy="168.1" r="5.55" fill="#00BA38"/>
<circle cx="730.3" cy="183.5" r="5.55" fill="#B79F00"/>
<circle cx="709.1" cy="189.7" r="5.55" fill="#00BA38"/>
<circle cx="715.5" cy="187.8" r="5.55" fill="#00BFC4"/>
<circle cx="616.6" cy="231.2" r="5.55" fill="#00BA38"/>
<circle cx="694.6" cy="229.0" r="5.55" fill="#00BA38"/>
<circle cx="706.0" cy="231.4" r="5.55" fill="#00BA38"/>
<circle cx="714.5" cy="217.1" r="5.55" fill="#B79F00"/>
<circle cx="711.6" cy="214.9" r="5.55" fill="#F564E3"/>
<circle cx="736.5" cy="227.1" r="5.55" fill="#F564E3"/>
<circle cx="734.9" cy="219.9" r="5.55" fill="#B79F00"/>
<circle cx="745.4" cy="204.4" r="5.55" fill="#B79F00"/>
<circle cx="747.3" cy="190.4" r="5.55" fill="#B79F00"/>
<circle cx="760.5" cy="196.5" r="5.55" fill="#00BA38"/>
<circle cx="756.9" cy="189.7" r="5.55" fill="#B79F00"/>
<circle cx="754.7" cy="193.3" r="5.55" fill="#B79F00"/>
<circle cx="767.0" cy="193.0" r="5.55" fill="#B79F00"/>
<circle cx="785.7" cy="199.1" r="5.55" fill="#00BA38"/>
<circle cx="777.3" cy="191.2" r="5.55" fill="#F8766D"/>
<circle cx="780.2" cy="202.4" r="5.55" fill="#F8766D"/>
<circle cx="786.4" cy="185.1" r="5.55" fill="#00BA38"/>
<circle cx="764.1" cy="176.8" r="5.55" fill="#B79F00"/>
<circle cx="779.9" cy="170.7" r="5.55" fill="#B79F00"/>
<circle cx="754.5" cy="153.5" r="5.55" fill="#B79F00"/>
<circle cx="760.8" cy="144.1" r="5.55" fill="#00BA38"/>
<circle cx="774.6" cy="150.1" r="5.55" fill="#B79F00"/>
<circle cx="782.1" cy="153.0" r="5.55" fill="#B79F00"/>
<circle cx="789.6" cy="144.8" r="5.55" fill="#B79F00"/>
<circle cx="730.3" cy="132.6" r="5.55" fill="#B79F00"/>
<circle cx="734.3" cy="138.8" r="5.55" fill="#B79F00"/>
<circle cx="744.0" cy="136.6" r="5.55" fill="#B79F00"/>
<circle cx="755.6" cy="132.3" r="5.55" fill="#00BA38"/>
<circle cx="779.9" cy="133.9" r="5.55" fill="#B79F00"/>
<circle cx="761.2" cy="234.3" r="5.55" fill="#00BA38"/>
<circle cx="772.7" cy="227.6" r="5.55" fill="#00BA38"/>
<circle cx="769.9" cy="246.5" r="5.55" fill="#B79F00"/>
<circle cx="765.8" cy="244.4" r="5.55" fill="#00BA38"/>
<circle cx="688.6" cy="256.0" r="5.55" fill="#B79F00"/>
<circle cx="651.2" cy="261.9" r="5.55" fill="#00BA38"/>
<circle cx="680.6" cy="274.2" r="5.55" fill="#00BA38"/>
<circle cx="701.5" cy="280.6" r="5.55" fill="#B79F00"/>
<circle cx="735.8" cy="284.5" r="5.55" fill="#F564E3"/>
<circle cx="722.9" cy="295.0" r="5.55" fill="#F8766D"/>
<circle cx="682.5" cy="294.6" r="5.55" fill="#B79F00"/>
<circle cx="701.2" cy="294.2" r="5.55" fill="#B79F00"/>
<circle cx="692.7" cy="307.6" r="5.55" fill="#B79F00"/>
<circle cx="670.3" cy="324.2" r="5.55" fill="#B79F00"/>
<circle cx="641.1" cy="336.0" r="5.55" fill="#B79F00"/>
<circle cx="597.9" cy="286.3" r="5.55" fill="#00BA38"/>
<circle cx="618.1" cy="292.2" r="5.55" fill="#B79F00"/>
<circle cx="614.5" cy="296.8" r="5.55" fill="#B79F00"/>
<circle cx="597.6" cy="315.5" r="5.55" fill="#00BA38"/>
<circle cx="605.3" cy="358.2" r="5.55" fill="#00BA38"/>
<circle cx="617.6" cy="368.0" r="5.55" fill="#B79F00"/>
<circle cx="680.6" cy="352.4" r="5.55" fill="#B79F00"/>
<circle cx="695.3" cy="360.4" r="5.55" fill="#B79F00"/>
<circle cx="708.7" cy="342.8" r="5.55" fill="#B79F00"/>
<circle cx="714.5" cy="345.7" r="5.55" fill="#B79F00"/>
<circle cx="719.9" cy="339.5" r="5.55" fill="#619CFF"/>
<circle cx="746.5" cy="348.6" r="5.55" fill="#619CFF"/>
<circle cx="754.5" cy="350.7" r="5.55" fill="#00BA38"/>
<circle cx="746.4" cy="353.9" r="5.55" fill="#B79F00"/>
<circle cx="664.1" cy="374.7" r="5.55" fill="#B79F00"/>
<circle cx="668.4" cy="381.7" r="5.55" fill="#00BA38"/>
<circle cx="593.6" cy="385.8" r="5.55" fill="#B79F00"/>
<circle cx="624.7" cy="392.7" r="5.55" fill="#00BFC4"/>
<circle cx="638.6" cy="389.4" r="5.55" fill="#00BA38"/>
<circle cx="650.3" cy="396.3" r="5.55" fill="#B79F00"/>
<circle cx="662.5" cy="399.5" r="5.55" fill="#00BA38"/>
<circle cx="628.1" cy="405.8" r="5.55" fill="#B79F00"/>
<circle cx="610.5" cy="408.5" r="5.55" fill="#619CFF"/>
<circle cx="611.9" cy="414.6" r="5.55" fill="#00BA38"/>
<circle cx="614.8" cy="420.4" r="5.55" fill="#00BA38"/>
<circle cx="620.9" cy="421.4" r="5.55" fill="#B79F00"/>
<circle cx="614.5" cy="427.6" r="5.55" fill="#B79F00"/>
<circle cx="591.8" cy="413.2" r="5.55" fill="#00BA38"/>
<circle cx="639.6" cy="417.8" r="5.55" fill="#B79F00"/>
<circle cx="636.4" cy="425.8" r="5.55" fill="#B79F00"/>
<circle cx="654.7" cy="425.0" r="5.55" fill="#B79F00"/>
<circle cx="654.4" cy="428.3" r="5.55" fill="#619CFF"/>
<circle cx="684.6" cy="424.7" r="5.55" fill="#B79F00"/>
<circle cx="664.8" cy="432.9" r="5.55" fill="#B79F00"/>
<circle cx="589.5" cy="440.8" r="5.55" fill="#619CFF"/>
<circle cx="602.9" cy="444.4" r="5.55" fill="#00BFC4"/>
<circle cx="597.6" cy="439.4" r="5.55" fill="#B79F00"/>
<circle cx="610.4" cy="437.9" r="5.55" fill="#B79F00"/>
<circle cx="641.4" cy="443.3" r="5.55" fill="#F564E3"/>
<circle cx="635.3" cy="439.0" r="5.55" fill="#B79F00"/>
<circle cx="640.4" cy="451.6" r="5.55" fill="#B79F00"/>
<circle cx="664.5" cy="443.7" r="5.55" fill="#00BA38"/>
<circle cx="652.2" cy="449.1" r="5.55" fill="#B79F00"/>
<circle cx="662.7" cy="450.9" r="5.55" fill="#B79F00"/>
<circle cx="653.9" cy="445.0" r="5.55" fill="#619CFF"/>
<circle cx="610.5" cy="452.3" r="5.55" fill="#00BA38"/>
<circle cx="612.3" cy="456.3" r="5.55" fill="#00BA38"/>
<circle cx="597.6" cy="456.6" r="5.55" fill="#B79F00"/>
<circle cx="605.5" cy="463.8" r="5.55" fill="#B79F00"/>
<circle cx="597.9" cy="467.4" r="5.55" fill="#B79F00"/>
<circle cx="597.2" cy="477.1" r="5.55" fill="#B79F00"/>
<circle cx="592.2" cy="479.6" r="5.55" fill="#B79F00"/>
<circle cx="598.6" cy="486.8" r="5.55" fill="#00BFC4"/>
<circle cx="621.4" cy="469.1" r="5.55" fill="#00BA38"/>
<circle cx="617.3" cy="475.7" r="5.55" fill="#F564E3"/>
<circle cx="632.4" cy="464.9" r="5.55" fill="#00BA38"/>
<circle cx="639.9" cy="464.4" r="5.55" fill="#B79F00"/>
<circle cx="637.5" cy="474.2" r="5.55" fill="#F564E3"/>
<circle cx="638.2" cy="479.6" r="5.55" fill="#B79F00"/>
<circle cx="631.0" cy="476.0" r="5.55" fill="#00BA38"/>
<circle cx="645.8" cy="471.4" r="5.55" fill="#00BA38"/>
<circle cx="646.8" cy="479.6" r="5.55" fill="#00BA38"/>
<circle cx="643.2" cy="486.8" r="5.55" fill="#00BA38"/>
<circle cx="656.2" cy="480.0" r="5.55" fill="#00BA38"/>
<circle cx="655.1" cy="466.0" r="5.55" fill="#F564E3"/>
<circle cx="657.6" cy="462.4" r="5.55" fill="#F564E3"/>
<circle cx="658.0" cy="469.2" r="5.55" fill="#B79F00"/>
<circle cx="664.1" cy="472.4" r="5.55" fill="#B79F00"/>
<circle cx="679.0" cy="455.3" r="5.55" fill="#00BA38"/>
<circle cx="687.1" cy="446.5" r="5.55" fill="#00BA38"/>
<circle cx="686.8" cy="485.0" r="5.55" fill="#B79F00"/>
<circle cx="700.5" cy="409.1" r="5.55" fill="#00BA38"/>
<circle cx="701.9" cy="431.6" r="5.55" fill="#B79F00"/>
<circle cx="694.7" cy="428.3" r="5.55" fill="#F564E3"/>
<circle cx="692.2" cy="446.0" r="5.55" fill="#B79F00"/>
<circle cx="698.6" cy="456.8" r="5.55" fill="#00BA38"/>
<circle cx="700.8" cy="465.0" r="5.55" fill="#00BA38"/>
<circle cx="719.8" cy="469.3" r="5.55" fill="#B79F00"/>
<circle cx="728.6" cy="473.3" r="5.55" fill="#00BA38"/>
<circle cx="761.2" cy="469.3" r="5.55" fill="#B79F00"/>
<circle cx="785.0" cy="427.1" r="5.55" fill="#B79F00"/>
<circle cx="710.1" cy="486.3" r="5.55" fill="#B79F00"/>
<circle cx="723.8" cy="489.1" r="5.55" fill="#B79F00"/>
<circle cx="671.3" cy="491.7" r="5.55" fill="#B79F00"/>
<circle cx="677.1" cy="495.8" r="5.55" fill="#00BA38"/>
<circle cx="600.8" cy="501.9" r="5.55" fill="#00BA38"/>
<circle cx="607.0" cy="497.9" r="5.55" fill="#F564E3"/>
<circle cx="621.9" cy="501.5" r="5.55" fill="#B79F00"/>
<circle cx="639.4" cy="497.2" r="5.55" fill="#B79F00"/>
<circle cx="619.1" cy="518.5" r="5.55" fill="#00BA38"/>
<circle cx="618.2" cy="533.2" r="5.55" fill="#B79F00"/>
<circle cx="631.2" cy="552.9" r="5.55" fill="#F564E3"/>
<circle cx="593.6" cy="595.0" r="5.55" fill="#00BA38"/>
<circle cx="735.0" cy="495.8" r="5.55" fill="#B79F00"/>
<circle cx="752.9" cy="502.9" r="5.55" fill="#B79F00"/>
<circle cx="688.6" cy="510.6" r="5.55" fill="#B79F00"/>
<circle cx="695.5" cy="521.2" r="5.55" fill="#B79F00"/>
<circle cx="688.3" cy="517.3" r="5.55" fill="#F564E3"/>
<circle cx="772.4" cy="523.8" r="5.55" fill="#B79F00"/>
<circle cx="784.2" cy="517.8" r="5.55" fill="#F564E3"/>
<circle cx="787.1" cy="536.0" r="5.55" fill="#00BA38"/>
<circle cx="724.4" cy="590.4" r="5.55" fill="#B79F00"/>
<circle cx="770.3" cy="589.6" r="5.55" fill="#B79F00"/>
<circle cx="779.9" cy="594.0" r="5.55" fill="#B79F00"/>
<circle cx="787.8" cy="584.0" r="5.55" fill="#F8766D"/>
<circle cx="765.5" cy="604.7" r="5.55" fill="#00BFC4"/>
<circle cx="788.6" cy="603.7" r="5.55" fill="#B79F00"/>
<circle cx="780.6" cy="620.4" r="5.55" fill="#00BA38"/>
<circle cx="772.0" cy="629.4" r="5.55" fill="#00BA38"/>
<circle cx="690.1" cy="659.6" r="5.55" fill="#B79F00"/>
<circle cx="709.4" cy="657.1" r="5.55" fill="#F564E3"/>
<circle cx="724.8" cy="653.9" r="5.55" fill="#F8766D"/>
<circle cx="720.6" cy="666.5" r="5.55" fill="#B79F00"/>
<circle cx="673.9" cy="680.1" r="5.55" fill="#F564E3"/>
<circle cx="767.6" cy="657.9" r="5.55" fill="#F8766D"/>
<circle cx="762.9" cy="670.4" r="5.55" fill="#00BA38"/>
<circle cx="746.4" cy="678.6" r="5.55" fill="#00BA38"/>
<circle cx="756.2" cy="684.8" r="5.55" fill="#F564E3"/>
<circle cx="750.4" cy="688.8" r="5.55" fill="#00BA38"/>
<circle cx="817.8" cy="86.7" r="5.55" fill="#F8766D"/>
<circle cx="833.5" cy="116.2" r="5.55" fill="#F8766D"/>
<circle cx="850.4" cy="112.2" r="5.55" fill="#B79F00"/>
<circle cx="795.8" cy="140.4" r="5.55" fill="#00BA38"/>
<circle cx="826.4" cy="138.2" r="5.55" fill="#B79F00"/>
<circle cx="812.7" cy="157.3" r="5.55" fill="#B79F00"/>
<circle cx="793.6" cy="156.9" r="5.55" fill="#00BA38"/>
<circle cx="799.4" cy="157.3" r="5.55" fill="#00BA38"/>
<circle cx="806.3" cy="164.5" r="5.55" fill="#00BA38"/>
<circle cx="829.9" cy="165.3" r="5.55" fill="#00BA38"/>
<circle cx="796.9" cy="190.0" r="5.55" fill="#00BA38"/>
<circle cx="810.4" cy="197.2" r="5.55" fill="#00BA38"/>
<circle cx="828.8" cy="192.3" r="5.55" fill="#00BA38"/>
<circle cx="851.9" cy="189.1" r="5.55" fill="#00BA38"/>
<circle cx="862.7" cy="200.5" r="5.55" fill="#00BA38"/>
<circle cx="881.1" cy="198.6" r="5.55" fill="#F8766D"/>
<circle cx="898.9" cy="199.5" r="5.55" fill="#F8766D"/>
<circle cx="900.1" cy="193.3" r="5.55" fill="#B79F00"/>
<circle cx="911.6" cy="198.8" r="5.55" fill="#F8766D"/>
<circle cx="915.9" cy="197.9" r="5.55" fill="#F8766D"/>
<circle cx="874.9" cy="208.4" r="5.55" fill="#B79F00"/>
<circle cx="879.9" cy="210.6" r="5.55" fill="#F8766D"/>
<circle cx="885.0" cy="212.7" r="5.55" fill="#F8766D"/>
<circle cx="846.3" cy="219.6" r="5.55" fill="#F8766D"/>
<circle cx="813.2" cy="223.2" r="5.55" fill="#00BA38"/>
<circle cx="902.2" cy="219.2" r="5.55" fill="#619CFF"/>
<circle cx="896.9" cy="220.4" r="5.55" fill="#00BA38"/>
<circle cx="900.8" cy="163.1" r="5.55" fill="#F8766D"/>
<circle cx="916.5" cy="161.4" r="5.55" fill="#B79F00"/>
<circle cx="973.2" cy="177.8" r="5.55" fill="#F8766D"/>
<circle cx="971.6" cy="202.4" r="5.55" fill="#F8766D"/>
<circle cx="983.8" cy="197.6" r="5.55" fill="#B79F00"/>
<circle cx="977.3" cy="222.1" r="5.55" fill="#B79F00"/>
<circle cx="964.5" cy="231.7" r="5.55" fill="#F8766D"/>
<circle cx="959.8" cy="241.5" r="5.55" fill="#F8766D"/>
<circle cx="980.6" cy="237.2" r="5.55" fill="#F8766D"/>
<circle cx="791.4" cy="245.1" r="5.55" fill="#B79F00"/>
<circle cx="794.3" cy="235.8" r="5.55" fill="#00BA38"/>
<circle cx="793.2" cy="238.6" r="5.55" fill="#00BFC4"/>
<circle cx="808.0" cy="248.7" r="5.55" fill="#B79F00"/>
<circle cx="814.5" cy="248.0" r="5.55" fill="#00BA38"/>
<circle cx="980.6" cy="247.3" r="5.55" fill="#F8766D"/>
<circle cx="989.3" cy="248.0" r="5.55" fill="#F8766D"/>
<circle cx="820.2" cy="254.5" r="5.55" fill="#F8766D"/>
<circle cx="826.4" cy="264.5" r="5.55" fill="#619CFF"/>
<circle cx="792.6" cy="267.7" r="5.55" fill="#00BA38"/>
<circle cx="845.4" cy="258.1" r="5.55" fill="#00BA38"/>
<circle cx="850.4" cy="263.1" r="5.55" fill="#00BA38"/>
<circle cx="848.6" cy="275.6" r="5.55" fill="#00BA38"/>
<circle cx="825.0" cy="294.0" r="5.55" fill="#00BFC4"/>
<circle cx="823.5" cy="287.1" r="5.55" fill="#B79F00"/>
<circle cx="832.7" cy="285.4" r="5.55" fill="#B79F00"/>
<circle cx="825.0" cy="306.7" r="5.55" fill="#00BA38"/>
<circle cx="847.6" cy="308.1" r="5.55" fill="#00BA38"/>
<circle cx="811.6" cy="330.7" r="5.55" fill="#B79F00"/>
<circle cx="828.1" cy="343.7" r="5.55" fill="#B79F00"/>
<circle cx="892.9" cy="268.6" r="5.55" fill="#B79F00"/>
<circle cx="882.9" cy="280.4" r="5.55" fill="#00BFC4"/>
<circle cx="859.2" cy="286.8" r="5.55" fill="#B79F00"/>
<circle cx="866.0" cy="297.2" r="5.55" fill="#B79F00"/>
<circle cx="909.0" cy="257.8" r="5.55" fill="#00BA38"/>
<circle cx="918.1" cy="251.6" r="5.55" fill="#B79F00"/>
<circle cx="930.6" cy="252.6" r="5.55" fill="#F8766D"/>
<circle cx="917.3" cy="270.0" r="5.55" fill="#B79F00"/>
<circle cx="919.5" cy="281.5" r="5.55" fill="#B79F00"/>
<circle cx="929.6" cy="287.8" r="5.55" fill="#B79F00"/>
<circle cx="938.6" cy="292.6" r="5.55" fill="#B79F00"/>
<circle cx="900.5" cy="308.8" r="5.55" fill="#B79F00"/>
<circle cx="905.8" cy="316.0" r="5.55" fill="#00BA38"/>
<circle cx="875.2" cy="322.5" r="5.55" fill="#00BA38"/>
<circle cx="880.2" cy="334.6" r="5.55" fill="#00BA38"/>
<circle cx="872.3" cy="345.8" r="5.55" fill="#00BFC4"/>
<circle cx="933.2" cy="307.4" r="5.55" fill="#F8766D"/>
<circle cx="939.4" cy="320.6" r="5.55" fill="#B79F00"/>
<circle cx="935.0" cy="329.3" r="5.55" fill="#00BA38"/>
<circle cx="922.9" cy="331.9" r="5.55" fill="#00BA38"/>
<circle cx="916.6" cy="345.1" r="5.55" fill="#B79F00"/>
<circle cx="920.9" cy="343.7" r="5.55" fill="#B79F00"/>
<circle cx="940.8" cy="342.2" r="5.55" fill="#F8766D"/>
<circle cx="950.4" cy="338.2" r="5.55" fill="#00BA38"/>
<circle cx="956.9" cy="343.7" r="5.55" fill="#619CFF"/>
<circle cx="972.7" cy="347.3" r="5.55" fill="#619CFF"/>
<circle cx="955.2" cy="259.2" r="5.55" fill="#B79F00"/>
<circle cx="949.0" cy="255.9" r="5.55" fill="#F8766D"/>
<circle cx="980.2" cy="261.2" r="5.55" fill="#F8766D"/>
<circle cx="987.8" cy="284.4" r="5.55" fill="#F8766D"/>
<circle cx="962.2" cy="297.9" r="5.55" fill="#00BA38"/>
<circle cx="960.1" cy="300.2" r="5.55" fill="#F8766D"/>
<circle cx="978.5" cy="300.2" r="5.55" fill="#00BA38"/>
<circle cx="980.6" cy="309.9" r="5.55" fill="#F8766D"/>
<circle cx="989.3" cy="301.9" r="5.55" fill="#F8766D"/>
<circle cx="989.3" cy="310.6" r="5.55" fill="#B79F00"/>
<circle cx="987.8" cy="319.9" r="5.55" fill="#F8766D"/>
<circle cx="988.6" cy="332.9" r="5.55" fill="#00BA38"/>
<circle cx="987.1" cy="345.1" r="5.55" fill="#00BA38"/>
<circle cx="879.9" cy="353.6" r="5.55" fill="#00BFC4"/>
<circle cx="800.9" cy="364.8" r="5.55" fill="#B79F00"/>
<circle cx="826.0" cy="369.4" r="5.55" fill="#B79F00"/>
<circle cx="811.3" cy="379.5" r="5.55" fill="#B79F00"/>
<circle cx="795.0" cy="383.8" r="5.55" fill="#B79F00"/>
<circle cx="792.2" cy="392.9" r="5.55" fill="#00BFC4"/>
<circle cx="849.0" cy="373.7" r="5.55" fill="#00BA38"/>
<circle cx="850.0" cy="380.9" r="5.55" fill="#00BA38"/>
<circle cx="873.9" cy="385.0" r="5.55" fill="#00BA38"/>
<circle cx="877.8" cy="390.3" r="5.55" fill="#00BA38"/>
<circle cx="870.9" cy="394.3" r="5.55" fill="#00BA38"/>
<circle cx="891.6" cy="385.5" r="5.55" fill="#B79F00"/>
<circle cx="859.8" cy="399.6" r="5.55" fill="#B79F00"/>
<circle cx="925.3" cy="379.5" r="5.55" fill="#00BFC4"/>
<circle cx="930.3" cy="378.5" r="5.55" fill="#00BFC4"/>
<circle cx="943.2" cy="381.4" r="5.55" fill="#B79F00"/>
<circle cx="947.6" cy="357.9" r="5.55" fill="#B79F00"/>
<circle cx="954.0" cy="368.3" r="5.55" fill="#B79F00"/>
<circle cx="964.4" cy="361.5" r="5.55" fill="#F8766D"/>
<circle cx="974.6" cy="360.1" r="5.55" fill="#00BA38"/>
<circle cx="979.9" cy="367.3" r="5.55" fill="#F8766D"/>
<circle cx="960.2" cy="375.2" r="5.55" fill="#00BFC4"/>
<circle cx="972.3" cy="373.5" r="5.55" fill="#619CFF"/>
<circle cx="969.9" cy="397.8" r="5.55" fill="#00BA38"/>
<circle cx="962.7" cy="396.3" r="5.55" fill="#00BFC4"/>
<circle cx="962.4" cy="407.6" r="5.55" fill="#00BFC4"/>
<circle cx="962.7" cy="410.4" r="5.55" fill="#F8766D"/>
<circle cx="961.2" cy="417.6" r="5.55" fill="#F8766D"/>
<circle cx="972.0" cy="418.8" r="5.55" fill="#F8766D"/>
<circle cx="981.7" cy="423.4" r="5.55" fill="#F8766D"/>
<circle cx="979.6" cy="422.4" r="5.55" fill="#B79F00"/>
<circle cx="975.6" cy="436.0" r="5.55" fill="#00BA38"/>
<circle cx="826.7" cy="410.9" r="5.55" fill="#B79F00"/>
<circle cx="838.2" cy="409.7" r="5.55" fill="#B79F00"/>
<circle cx="833.9" cy="410.1" r="5.55" fill="#00BA38"/>
<circle cx="846.8" cy="411.9" r="5.55" fill="#00BFC4"/>
<circle cx="845.8" cy="416.9" r="5.55" fill="#F8766D"/>
<circle cx="837.8" cy="425.1" r="5.55" fill="#00BFC4"/>
<circle cx="846.8" cy="427.0" r="5.55" fill="#F8766D"/>
<circle cx="837.1" cy="437.3" r="5.55" fill="#F8766D"/>
<circle cx="815.9" cy="427.3" r="5.55" fill="#B79F00"/>
<circle cx="866.3" cy="424.8" r="5.55" fill="#00BA38"/>
<circle cx="868.1" cy="427.7" r="5.55" fill="#B79F00"/>
<circle cx="880.9" cy="427.7" r="5.55" fill="#00BFC4"/>
<circle cx="881.8" cy="440.4" r="5.55" fill="#00BFC4"/>
<circle cx="897.9" cy="426.3" r="5.55" fill="#F8766D"/>
<circle cx="896.5" cy="430.9" r="5.55" fill="#00BFC4"/>
<circle cx="926.7" cy="427.7" r="5.55" fill="#00BFC4"/>
<circle cx="918.1" cy="456.0" r="5.55" fill="#619CFF"/>
<circle cx="798.3" cy="458.9" r="5.55" fill="#B79F00"/>
<circle cx="830.3" cy="458.6" r="5.55" fill="#F564E3"/>
<circle cx="828.1" cy="464.7" r="5.55" fill="#B79F00"/>
<circle cx="840.6" cy="457.6" r="5.55" fill="#B79F00"/>
<circle cx="862.2" cy="456.2" r="5.55" fill="#B79F00"/>
<circle cx="869.9" cy="468.7" r="5.55" fill="#B79F00"/>
<circle cx="913.7" cy="467.3" r="5.55" fill="#B79F00"/>
<circle cx="919.5" cy="468.0" r="5.55" fill="#B79F00"/>
<circle cx="955.5" cy="450.0" r="5.55" fill="#00BA38"/>
<circle cx="951.2" cy="446.7" r="5.55" fill="#F8766D"/>
<circle cx="946.1" cy="460.8" r="5.55" fill="#F8766D"/>
<circle cx="946.1" cy="453.6" r="5.55" fill="#B79F00"/>
<circle cx="968.8" cy="458.2" r="5.55" fill="#B79F00"/>
<circle cx="859.1" cy="474.7" r="5.55" fill="#F564E3"/>
<circle cx="874.2" cy="473.6" r="5.55" fill="#F8766D"/>
<circle cx="835.8" cy="491.6" r="5.55" fill="#F8766D"/>
<circle cx="864.4" cy="490.4" r="5.55" fill="#00BFC4"/>
<circle cx="882.1" cy="495.2" r="5.55" fill="#B79F00"/>
<circle cx="886.1" cy="491.2" r="5.55" fill="#00BFC4"/>
<circle cx="803.2" cy="504.1" r="5.55" fill="#F8766D"/>
<circle cx="888.8" cy="514.6" r="5.55" fill="#00BA38"/>
<circle cx="844.8" cy="525.4" r="5.55" fill="#F8766D"/>
<circle cx="795.5" cy="543.4" r="5.55" fill="#F564E3"/>
<circle cx="802.9" cy="544.4" r="5.55" fill="#B79F00"/>
<circle cx="831.7" cy="540.5" r="5.55" fill="#00BA38"/>
<circle cx="838.2" cy="544.1" r="5.55" fill="#00BA38"/>
<circle cx="856.3" cy="542.4" r="5.55" fill="#00BA38"/>
<circle cx="796.2" cy="561.1" r="5.55" fill="#B79F00"/>
<circle cx="828.4" cy="565.5" r="5.55" fill="#00BA38"/>
<circle cx="827.8" cy="577.6" r="5.55" fill="#B79F00"/>
<circle cx="837.5" cy="575.5" r="5.55" fill="#F564E3"/>
<circle cx="841.8" cy="585.8" r="5.55" fill="#B79F00"/>
<circle cx="849.7" cy="587.3" r="5.55" fill="#B79F00"/>
<circle cx="884.5" cy="566.1" r="5.55" fill="#00BA38"/>
<circle cx="898.6" cy="478.6" r="5.55" fill="#B79F00"/>
<circle cx="929.2" cy="477.4" r="5.55" fill="#B79F00"/>
<circle cx="918.1" cy="492.3" r="5.55" fill="#B79F00"/>
<circle cx="920.9" cy="485.1" r="5.55" fill="#F8766D"/>
<circle cx="922.4" cy="489.8" r="5.55" fill="#F8766D"/>
<circle cx="913.4" cy="497.0" r="5.55" fill="#F8766D"/>
<circle cx="909.4" cy="503.3" r="5.55" fill="#F8766D"/>
<circle cx="930.1" cy="496.5" r="5.55" fill="#B79F00"/>
<circle cx="937.1" cy="485.8" r="5.55" fill="#00BA38"/>
<circle cx="942.2" cy="486.4" r="5.55" fill="#00BA38"/>
<circle cx="925.3" cy="510.3" r="5.55" fill="#F8766D"/>
<circle cx="928.1" cy="514.2" r="5.55" fill="#F8766D"/>
<circle cx="957.6" cy="507.4" r="5.55" fill="#B79F00"/>
<circle cx="971.1" cy="502.9" r="5.55" fill="#B79F00"/>
<circle cx="949.6" cy="500.2" r="5.55" fill="#F8766D"/>
<circle cx="951.9" cy="504.5" r="5.55" fill="#F8766D"/>
<circle cx="957.3" cy="515.3" r="5.55" fill="#F8766D"/>
<circle cx="949.6" cy="511.4" r="5.55" fill="#00BFC4"/>
<circle cx="965.0" cy="507.2" r="5.55" fill="#00BFC4"/>
<circle cx="970.9" cy="480.4" r="5.55" fill="#F8766D"/>
<circle cx="974.9" cy="482.6" r="5.55" fill="#F8766D"/>
<circle cx="985.5" cy="493.7" r="5.55" fill="#F8766D"/>
<circle cx="989.6" cy="479.0" r="5.55" fill="#B79F00"/>
<circle cx="976.7" cy="520.0" r="5.55" fill="#00BA38"/>
<circle cx="975.1" cy="522.9" r="5.55" fill="#F8766D"/>
<circle cx="964.8" cy="526.8" r="5.55" fill="#B79F00"/>
<circle cx="954.7" cy="525.0" r="5.55" fill="#00BA38"/>
<circle cx="957.3" cy="526.8" r="5.55" fill="#00BA38"/>
<circle cx="915.2" cy="530.7" r="5.55" fill="#00BA38"/>
<circle cx="936.8" cy="537.6" r="5.55" fill="#B79F00"/>
<circle cx="928.1" cy="534.0" r="5.55" fill="#00BFC4"/>
<circle cx="910.5" cy="548.7" r="5.55" fill="#B79F00"/>
<circle cx="926.2" cy="556.3" r="5.55" fill="#B79F00"/>
<circle cx="932.8" cy="560.9" r="5.55" fill="#B79F00"/>
<circle cx="933.2" cy="568.8" r="5.55" fill="#B79F00"/>
<circle cx="895.0" cy="569.2" r="5.55" fill="#B79F00"/>
<circle cx="910.5" cy="568.8" r="5.55" fill="#00BA38"/>
<circle cx="918.4" cy="573.9" r="5.55" fill="#00BA38"/>
<circle cx="924.5" cy="574.6" r="5.55" fill="#00BA38"/>
<circle cx="947.9" cy="570.3" r="5.55" fill="#B79F00"/>
<circle cx="953.3" cy="556.3" r="5.55" fill="#B79F00"/>
<circle cx="966.3" cy="566.0" r="5.55" fill="#F8766D"/>
<circle cx="961.6" cy="562.0" r="5.55" fill="#00BFC4"/>
<circle cx="984.2" cy="556.6" r="5.55" fill="#F8766D"/>
<circle cx="972.7" cy="568.8" r="5.55" fill="#00BA38"/>
<circle cx="985.0" cy="567.4" r="5.55" fill="#00BA38"/>
<circle cx="985.0" cy="571.7" r="5.55" fill="#00BFC4"/>
<circle cx="979.1" cy="560.9" r="5.55" fill="#00BFC4"/>
<circle cx="989.6" cy="563.8" r="5.55" fill="#F8766D"/>
<circle cx="984.2" cy="539.4" r="5.55" fill="#00BFC4"/>
<circle cx="972.9" cy="544.4" r="5.55" fill="#B79F00"/>
<circle cx="957.6" cy="578.2" r="5.55" fill="#00BA38"/>
<circle cx="967.7" cy="575.7" r="5.55" fill="#00BFC4"/>
<circle cx="940.4" cy="583.2" r="5.55" fill="#B79F00"/>
<circle cx="919.9" cy="584.3" r="5.55" fill="#F8766D"/>
<circle cx="929.6" cy="578.9" r="5.55" fill="#F8766D"/>
<circle cx="933.2" cy="584.7" r="5.55" fill="#F8766D"/>
<circle cx="946.8" cy="581.8" r="5.55" fill="#F8766D"/>
<circle cx="948.3" cy="589.4" r="5.55" fill="#619CFF"/>
<circle cx="907.8" cy="586.8" r="5.55" fill="#B79F00"/>
<circle cx="968.4" cy="587.6" r="5.55" fill="#F8766D"/>
<circle cx="974.5" cy="588.6" r="5.55" fill="#00BFC4"/>
<circle cx="816.6" cy="600.4" r="5.55" fill="#B79F00"/>
<circle cx="820.9" cy="603.3" r="5.55" fill="#00BA38"/>
<circle cx="827.8" cy="602.6" r="5.55" fill="#00BA38"/>
<circle cx="838.2" cy="606.9" r="5.55" fill="#00BA38"/>
<circle cx="840.7" cy="611.9" r="5.55" fill="#F564E3"/>
<circle cx="844.7" cy="619.5" r="5.55" fill="#B79F00"/>
<circle cx="851.4" cy="604.4" r="5.55" fill="#F564E3"/>
<circle cx="795.8" cy="614.1" r="5.55" fill="#F8766D"/>
<circle cx="792.9" cy="644.0" r="5.55" fill="#F564E3"/>
<circle cx="820.9" cy="619.9" r="5.55" fill="#00BA38"/>
<circle cx="829.4" cy="625.3" r="5.55" fill="#B79F00"/>
<circle cx="836.0" cy="635.3" r="5.55" fill="#00BFC4"/>
<circle cx="874.5" cy="626.0" r="5.55" fill="#B79F00"/>
<circle cx="867.3" cy="623.1" r="5.55" fill="#00BA38"/>
<circle cx="857.6" cy="634.2" r="5.55" fill="#F564E3"/>
<circle cx="867.0" cy="633.9" r="5.55" fill="#B79F00"/>
<circle cx="879.9" cy="632.4" r="5.55" fill="#B79F00"/>
<circle cx="886.4" cy="634.6" r="5.55" fill="#B79F00"/>
<circle cx="886.0" cy="613.4" r="5.55" fill="#B79F00"/>
<circle cx="883.0" cy="622.6" r="5.55" fill="#00BFC4"/>
<circle cx="854.7" cy="646.1" r="5.55" fill="#F8766D"/>
<circle cx="875.3" cy="647.6" r="5.55" fill="#F564E3"/>
<circle cx="828.8" cy="647.6" r="5.55" fill="#B79F00"/>
<circle cx="931.7" cy="591.8" r="5.55" fill="#00BA38"/>
<circle cx="921.7" cy="596.8" r="5.55" fill="#B79F00"/>
<circle cx="923.1" cy="599.4" r="5.55" fill="#00BA38"/>
<circle cx="934.6" cy="600.1" r="5.55" fill="#00BA38"/>
<circle cx="944.3" cy="601.2" r="5.55" fill="#F8766D"/>
<circle cx="962.3" cy="610.1" r="5.55" fill="#F8766D"/>
<circle cx="951.7" cy="605.5" r="5.55" fill="#B79F00"/>
<circle cx="941.4" cy="608.3" r="5.55" fill="#00BA38"/>
<circle cx="949.4" cy="615.9" r="5.55" fill="#F8766D"/>
<circle cx="960.1" cy="616.6" r="5.55" fill="#00BA38"/>
<circle cx="964.8" cy="623.8" r="5.55" fill="#00BA38"/>
<circle cx="968.8" cy="598.6" r="5.55" fill="#F8766D"/>
<circle cx="973.5" cy="603.3" r="5.55" fill="#B79F00"/>
<circle cx="971.3" cy="602.9" r="5.55" fill="#00BA38"/>
<circle cx="985.7" cy="597.9" r="5.55" fill="#00BFC4"/>
<circle cx="973.5" cy="614.1" r="5.55" fill="#00BA38"/>
<circle cx="981.0" cy="627.1" r="5.55" fill="#00BA38"/>
<circle cx="989.4" cy="633.2" r="5.55" fill="#00BA38"/>
<circle cx="985.7" cy="642.9" r="5.55" fill="#00BA38"/>
<circle cx="967.7" cy="647.9" r="5.55" fill="#00BA38"/>
<circle cx="897.6" cy="611.2" r="5.55" fill="#F8766D"/>
<circle cx="902.6" cy="615.5" r="5.55" fill="#00BA38"/>
<circle cx="901.2" cy="623.8" r="5.55" fill="#F8766D"/>
<circle cx="908.7" cy="621.3" r="5.55" fill="#B79F00"/>
<circle cx="898.3" cy="631.4" r="5.55" fill="#B79F00"/>
<circle cx="910.9" cy="631.4" r="5.55" fill="#B79F00"/>
<circle cx="909.4" cy="637.5" r="5.55" fill="#F8766D"/>
<circle cx="932.1" cy="631.0" r="5.55" fill="#F8766D"/>
<circle cx="930.6" cy="614.8" r="5.55" fill="#00BA38"/>
<circle cx="929.6" cy="621.3" r="5.55" fill="#00BA38"/>
<circle cx="944.0" cy="623.1" r="5.55" fill="#00BA38"/>
<circle cx="939.6" cy="628.1" r="5.55" fill="#00BA38"/>
<circle cx="940.4" cy="633.2" r="5.55" fill="#00BA38"/>
<circle cx="938.9" cy="637.5" r="5.55" fill="#00BA38"/>
<circle cx="932.4" cy="640.7" r="5.55" fill="#00BA38"/>
<circle cx="933.2" cy="646.8" r="5.55" fill="#00BA38"/>
<circle cx="954.0" cy="626.7" r="5.55" fill="#00BA38"/>
<circle cx="953.3" cy="631.4" r="5.55" fill="#619CFF"/>
<circle cx="955.8" cy="636.8" r="5.55" fill="#00BA38"/>
<circle cx="922.7" cy="647.6" r="5.55" fill="#F564E3"/>
<circle cx="820.2" cy="652.9" r="5.55" fill="#B79F00"/>
<circle cx="838.6" cy="653.5" r="5.55" fill="#B79F00"/>
<circle cx="832.8" cy="652.7" r="5.55" fill="#00BFC4"/>
<circle cx="804.0" cy="663.3" r="5.55" fill="#00BA38"/>
<circle cx="802.2" cy="661.9" r="5.55" fill="#F8766D"/>
<circle cx="799.0" cy="661.2" r="5.55" fill="#B79F00"/>
<circle cx="825.6" cy="665.5" r="5.55" fill="#00BA38"/>
<circle cx="832.4" cy="669.8" r="5.55" fill="#F564E3"/>
<circle cx="833.5" cy="664.4" r="5.55" fill="#00BFC4"/>
<circle cx="852.9" cy="668.6" r="5.55" fill="#B79F00"/>
<circle cx="871.9" cy="659.0" r="5.55" fill="#B79F00"/>
<circle cx="875.3" cy="666.5" r="5.55" fill="#F8766D"/>
<circle cx="869.9" cy="677.7" r="5.55" fill="#00BA38"/>
<circle cx="875.3" cy="679.9" r="5.55" fill="#00BA38"/>
<circle cx="881.5" cy="688.6" r="5.55" fill="#F564E3"/>
<circle cx="797.4" cy="679.6" r="5.55" fill="#00BA38"/>
<circle cx="800.8" cy="690.3" r="5.55" fill="#F564E3"/>
<circle cx="816.3" cy="690.3" r="5.55" fill="#00BA38"/>
<circle cx="812.3" cy="694.6" r="5.55" fill="#00BA38"/>
<circle cx="821.4" cy="704.7" r="5.55" fill="#00BA38"/>
<circle cx="889.9" cy="707.9" r="5.55" fill="#00BA38"/>
<circle cx="894.7" cy="651.1" r="5.55" fill="#F564E3"/>
<circle cx="911.9" cy="653.2" r="5.55" fill="#B79F00"/>
<circle cx="897.6" cy="664.4" r="5.55" fill="#00BA38"/>
<circle cx="906.2" cy="670.5" r="5.55" fill="#00BA38"/>
<circle cx="900.8" cy="670.9" r="5.55" fill="#B79F00"/>
<circle cx="905.5" cy="657.9" r="5.55" fill="#F8766D"/>
<circle cx="904.4" cy="666.2" r="5.55" fill="#F8766D"/>
<circle cx="914.1" cy="662.6" r="5.55" fill="#00BA38"/>
<circle cx="921.7" cy="660.1" r="5.55" fill="#00BFC4"/>
<circle cx="935.0" cy="671.1" r="5.55" fill="#00BA38"/>
<circle cx="896.7" cy="678.8" r="5.55" fill="#00BA38"/>
<circle cx="914.5" cy="680.2" r="5.55" fill="#00BA38"/>
<circle cx="920.9" cy="679.9" r="5.55" fill="#00BA38"/>
<circle cx="909.9" cy="692.2" r="5.55" fill="#00BA38"/>
<circle cx="859.0" cy="718.9" r="5.55" fill="#00BA38"/>
<circle cx="1001.2" cy="238.2" r="5.55" fill="#F8766D"/>
<circle cx="1014.7" cy="244.4" r="5.55" fill="#B79F00"/>
<circle cx="1029.4" cy="234.3" r="5.55" fill="#B79F00"/>
<circle cx="1046.8" cy="254.3" r="5.55" fill="#F8766D"/>
<circle cx="1041.1" cy="254.7" r="5.55" fill="#B79F00"/>
<circle cx="1028.1" cy="260.8" r="5.55" fill="#F8766D"/>
<circle cx="1019.5" cy="265.5" r="5.55" fill="#F8766D"/>
<circle cx="1030.9" cy="265.5" r="5.55" fill="#B79F00"/>
<circle cx="1051.5" cy="268.3" r="5.55" fill="#00BA38"/>
<circle cx="1056.2" cy="264.4" r="5.55" fill="#F8766D"/>
<circle cx="1057.3" cy="266.2" r="5.55" fill="#B79F00"/>
<circle cx="1023.8" cy="285.6" r="5.55" fill="#00BA38"/>
<circle cx="1049.7" cy="290.3" r="5.55" fill="#B79F00"/>
<circle cx="1076.0" cy="276.6" r="5.55" fill="#F8766D"/>
<circle cx="1079.2" cy="281.7" r="5.55" fill="#F8766D"/>
<circle cx="1077.4" cy="287.4" r="5.55" fill="#F8766D"/>
<circle cx="1068.4" cy="290.3" r="5.55" fill="#B79F00"/>
<circle cx="1065.5" cy="295.3" r="5.55" fill="#B79F00"/>
<circle cx="1075.3" cy="296.8" r="5.55" fill="#B79F00"/>
<circle cx="996.8" cy="298.9" r="5.55" fill="#B79F00"/>
<circle cx="999.4" cy="309.0" r="5.55" fill="#F8766D"/>
<circle cx="1002.6" cy="304.3" r="5.55" fill="#B79F00"/>
<circle cx="1105.8" cy="283.1" r="5.55" fill="#F8766D"/>
<circle cx="1099.6" cy="277.7" r="5.55" fill="#B79F00"/>
<circle cx="1113.7" cy="288.5" r="5.55" fill="#F8766D"/>
<circle cx="1113.2" cy="298.9" r="5.55" fill="#00BA38"/>
<circle cx="1092.2" cy="297.1" r="5.55" fill="#F8766D"/>
<circle cx="1099.7" cy="300.4" r="5.55" fill="#F8766D"/>
<circle cx="1099.4" cy="307.6" r="5.55" fill="#F8766D"/>
<circle cx="1110.9" cy="308.3" r="5.55" fill="#F8766D"/>
<circle cx="1132.9" cy="297.8" r="5.55" fill="#619CFF"/>
<circle cx="1130.3" cy="306.8" r="5.55" fill="#B79F00"/>
<circle cx="1143.6" cy="303.2" r="5.55" fill="#F8766D"/>
<circle cx="1156.9" cy="306.8" r="5.55" fill="#619CFF"/>
<circle cx="1162.7" cy="306.1" r="5.55" fill="#619CFF"/>
<circle cx="1161.9" cy="309.4" r="5.55" fill="#F8766D"/>
<circle cx="1187.8" cy="309.4" r="5.55" fill="#F8766D"/>
<circle cx="981.7" cy="353.8" r="5.55" fill="#619CFF"/>
<circle cx="997.6" cy="362.1" r="5.55" fill="#619CFF"/>
<circle cx="1000.1" cy="340.5" r="5.55" fill="#00BA38"/>
<circle cx="994.7" cy="347.3" r="5.55" fill="#00BA38"/>
<circle cx="988.9" cy="353.8" r="5.55" fill="#00BA38"/>
<circle cx="996.8" cy="354.5" r="5.55" fill="#00BA38"/>
<circle cx="995.4" cy="361.0" r="5.55" fill="#00BA38"/>
<circle cx="990.4" cy="366.0" r="5.55" fill="#00BA38"/>
<circle cx="1017.2" cy="327.6" r="5.55" fill="#B79F00"/>
<circle cx="1032.1" cy="333.0" r="5.55" fill="#F8766D"/>
<circle cx="1040.4" cy="331.9" r="5.55" fill="#F8766D"/>
<circle cx="1035.3" cy="343.1" r="5.55" fill="#F8766D"/>
<circle cx="1029.2" cy="341.3" r="5.55" fill="#B79F00"/>
<circle cx="1042.5" cy="338.8" r="5.55" fill="#B79F00"/>
<circle cx="1074.9" cy="319.4" r="5.55" fill="#00BA38"/>
<circle cx="1076.0" cy="339.1" r="5.55" fill="#00BA38"/>
<circle cx="1079.4" cy="332.7" r="5.55" fill="#00BFC4"/>
<circle cx="1085.7" cy="340.6" r="5.55" fill="#00BFC4"/>
<circle cx="1017.0" cy="339.5" r="5.55" fill="#F8766D"/>
<circle cx="1016.6" cy="351.0" r="5.55" fill="#F8766D"/>
<circle cx="1009.1" cy="340.6" r="5.55" fill="#00BFC4"/>
<circle cx="1013.0" cy="344.5" r="5.55" fill="#00BFC4"/>
<circle cx="1011.6" cy="349.6" r="5.55" fill="#00BFC4"/>
<circle cx="1004.4" cy="353.2" r="5.55" fill="#F8766D"/>
<circle cx="1025.0" cy="360.9" r="5.55" fill="#F8766D"/>
<circle cx="1049.0" cy="352.1" r="5.55" fill="#F8766D"/>
<circle cx="1053.3" cy="358.9" r="5.55" fill="#00BA38"/>
<circle cx="1046.5" cy="358.9" r="5.55" fill="#B79F00"/>
<circle cx="1061.1" cy="365.8" r="5.55" fill="#B79F00"/>
<circle cx="1075.1" cy="364.7" r="5.55" fill="#F8766D"/>
<circle cx="1012.7" cy="362.9" r="5.55" fill="#F8766D"/>
<circle cx="1004.7" cy="363.2" r="5.55" fill="#B79F00"/>
<circle cx="1010.9" cy="369.0" r="5.55" fill="#00BA38"/>
<circle cx="1001.5" cy="369.0" r="5.55" fill="#F8766D"/>
<circle cx="1036.0" cy="367.6" r="5.55" fill="#F8766D"/>
<circle cx="1047.6" cy="369.0" r="5.55" fill="#F8766D"/>
<circle cx="1142.9" cy="311.1" r="5.55" fill="#B79F00"/>
<circle cx="1150.1" cy="319.4" r="5.55" fill="#B79F00"/>
<circle cx="1131.4" cy="344.5" r="5.55" fill="#B79F00"/>
<circle cx="1159.1" cy="355.3" r="5.55" fill="#B79F00"/>
<circle cx="1094.7" cy="357.5" r="5.55" fill="#B79F00"/>
<circle cx="1094.7" cy="331.6" r="5.55" fill="#F8766D"/>
<circle cx="1094.3" cy="336.6" r="5.55" fill="#F8766D"/>
<circle cx="1100.1" cy="339.5" r="5.55" fill="#F8766D"/>
<circle cx="1110.5" cy="340.9" r="5.55" fill="#F8766D"/>
<circle cx="1117.3" cy="353.9" r="5.55" fill="#F8766D"/>
<circle cx="1123.8" cy="353.2" r="5.55" fill="#F8766D"/>
<circle cx="1139.6" cy="356.8" r="5.55" fill="#F8766D"/>
<circle cx="1113.7" cy="359.6" r="5.55" fill="#00BA38"/>
<circle cx="1110.9" cy="365.4" r="5.55" fill="#F8766D"/>
<circle cx="1136.8" cy="367.6" r="5.55" fill="#F8766D"/>
<circle cx="1149.7" cy="360.4" r="5.55" fill="#F8766D"/>
<circle cx="1157.6" cy="360.4" r="5.55" fill="#F8766D"/>
<circle cx="1149.7" cy="367.6" r="5.55" fill="#F8766D"/>
<circle cx="1161.9" cy="312.2" r="5.55" fill="#F8766D"/>
<circle cx="1182.8" cy="314.3" r="5.55" fill="#F8766D"/>
<circle cx="1185.7" cy="322.9" r="5.55" fill="#F8766D"/>
<circle cx="1114.5" cy="314.3" r="5.55" fill="#B79F00"/>
<circle cx="1111.6" cy="324.4" r="5.55" fill="#B79F00"/>
<circle cx="1143.2" cy="312.2" r="5.55" fill="#B79F00"/>
<circle cx="1165.2" cy="317.9" r="5.55" fill="#00BFC4"/>
<circle cx="1174.9" cy="315.4" r="5.55" fill="#619CFF"/>
<circle cx="1187.8" cy="316.5" r="5.55" fill="#619CFF"/>
<circle cx="1140.7" cy="331.6" r="5.55" fill="#B79F00"/>
<circle cx="1144.0" cy="335.9" r="5.55" fill="#B79F00"/>
<circle cx="1159.1" cy="335.5" r="5.55" fill="#B79F00"/>
<circle cx="1094.3" cy="343.1" r="5.55" fill="#B79F00"/>
<circle cx="1118.8" cy="343.8" r="5.55" fill="#B79F00"/>
<circle cx="1123.1" cy="346.7" r="5.55" fill="#B79F00"/>
<circle cx="1099.4" cy="356.0" r="5.55" fill="#00BFC4"/>
<circle cx="1103.3" cy="353.2" r="5.55" fill="#00BFC4"/>
<circle cx="1105.5" cy="347.4" r="5.55" fill="#00BFC4"/>
<circle cx="1108.3" cy="350.3" r="5.55" fill="#00BFC4"/>
<circle cx="1102.2" cy="358.9" r="5.55" fill="#B79F00"/>
<circle cx="1092.9" cy="363.6" r="5.55" fill="#00BFC4"/>
<circle cx="1185.7" cy="356.0" r="5.55" fill="#B79F00"/>
<circle cx="1162.7" cy="365.4" r="5.55" fill="#00BFC4"/>
<circle cx="1184.7" cy="315.9" r="5.55" fill="#F8766D"/>
<circle cx="1193.3" cy="321.7" r="5.55" fill="#F8766D"/>
<circle cx="1186.1" cy="324.5" r="5.55" fill="#F8766D"/>
<circle cx="1189.7" cy="330.3" r="5.55" fill="#F8766D"/>
<circle cx="1183.2" cy="332.4" r="5.55" fill="#F8766D"/>
<circle cx="1173.2" cy="323.8" r="5.55" fill="#F8766D"/>
<circle cx="1170.3" cy="327.4" r="5.55" fill="#F8766D"/>
<circle cx="1176.0" cy="327.4" r="5.55" fill="#F8766D"/>
<circle cx="1160.9" cy="324.5" r="5.55" fill="#F8766D"/>
<circle cx="1194.7" cy="316.8" r="5.55" fill="#619CFF"/>
<circle cx="1188.6" cy="316.3" r="5.55" fill="#619CFF"/>
<circle cx="1193.7" cy="358.6" r="2.5" fill="#00BFC4"/>
<circle cx="1172.1" cy="374.1" r="3.0" fill="#00BFC4"/>
<circle cx="1186.8" cy="378.1" r="4.5" fill="#B79F00"/>
<circle cx="1160.2" cy="355.0" r="3.5" fill="#B79F00"/>
<circle cx="1137.9" cy="383.8" r="4.0" fill="#B79F00"/>
<circle cx="1146.2" cy="392.1" r="5.55" fill="#00BA38"/>
<circle cx="1134.7" cy="395.7" r="4.0" fill="#619CFF"/>
<circle cx="1155.9" cy="399.6" r="4.0" fill="#619CFF"/>
<circle cx="1187.6" cy="407.9" r="4.5" fill="#00BA38"/>
<circle cx="1142.9" cy="402.5" r="2.0" fill="#B79F00"/>
<circle cx="1178.9" cy="408.6" r="2.5" fill="#B79F00"/>
<circle cx="1166.0" cy="409.1" r="2.0" fill="#B79F00"/>
<circle cx="1171.4" cy="430.1" r="5.55" fill="#B79F00"/>
<circle cx="1189.0" cy="414.3" r="5.55" fill="#B79F00"/>
<circle cx="1168.8" cy="413.6" r="5.55" fill="#B79F00"/>
<circle cx="1178.2" cy="414.3" r="5.55" fill="#B79F00"/>
<circle cx="1185.4" cy="416.5" r="5.55" fill="#F8766D"/>
<circle cx="1181.8" cy="423.7" r="5.55" fill="#F8766D"/>
<circle cx="1176.0" cy="427.3" r="5.55" fill="#F8766D"/>
<circle cx="1171.0" cy="427.6" r="5.55" fill="#F8766D"/>
<circle cx="1166.0" cy="425.8" r="5.55" fill="#F8766D"/>
<circle cx="1173.0" cy="419.7" r="5.55" fill="#00BFC4"/>
<circle cx="1161.1" cy="435.2" r="5.55" fill="#B79F00"/>
<circle cx="1135.0" cy="443.1" r="5.55" fill="#F8766D"/>
<circle cx="1138.6" cy="432.3" r="5.55" fill="#F8766D"/>
<circle cx="1149.4" cy="439.5" r="5.55" fill="#F8766D"/>
<circle cx="1156.3" cy="453.2" r="2.0" fill="#00BFC4"/>
<circle cx="1150.9" cy="448.1" r="5.55" fill="#F8766D"/>
<circle cx="1150.5" cy="455.0" r="5.55" fill="#F8766D"/>
<circle cx="1035.0" cy="375.8" r="5.55" fill="#B79F00"/>
<circle cx="1084.7" cy="376.5" r="5.55" fill="#00BA38"/>
<circle cx="1065.3" cy="394.8" r="5.55" fill="#00BA38"/>
<circle cx="1050.9" cy="399.5" r="5.55" fill="#00BA38"/>
<circle cx="1070.3" cy="403.8" r="5.55" fill="#00BFC4"/>
<circle cx="1076.8" cy="385.5" r="5.55" fill="#00BFC4"/>
<circle cx="1097.3" cy="387.3" r="5.55" fill="#00BFC4"/>
<circle cx="1101.2" cy="394.1" r="4.0" fill="#00BA38"/>
<circle cx="1110.9" cy="401.3" r="5.55" fill="#00BFC4"/>
<circle cx="1091.9" cy="404.5" r="5.55" fill="#B79F00"/>
<circle cx="1117.1" cy="408.1" r="3.5" fill="#00BA38"/>
<circle cx="1081.4" cy="399.1" r="5.55" fill="#00BFC4"/>
<circle cx="1040.1" cy="372.9" r="5.55" fill="#F8766D"/>
<circle cx="1047.3" cy="371.4" r="5.55" fill="#F8766D"/>
<circle cx="1057.0" cy="393.0" r="5.55" fill="#F8766D"/>
<circle cx="1059.5" cy="398.8" r="5.55" fill="#F8766D"/>
<circle cx="1062.4" cy="406.7" r="5.55" fill="#F8766D"/>
<circle cx="1043.2" cy="400.9" r="5.55" fill="#F8766D"/>
<circle cx="1073.2" cy="398.8" r="5.55" fill="#F8766D"/>
<circle cx="1084.7" cy="388.0" r="5.55" fill="#F8766D"/>
<circle cx="1091.9" cy="388.7" r="5.55" fill="#F8766D"/>
<circle cx="1112.7" cy="393.0" r="5.55" fill="#F8766D"/>
<circle cx="1108.4" cy="372.9" r="5.55" fill="#F8766D"/>
<circle cx="1114.2" cy="378.6" r="5.55" fill="#F8766D"/>
<circle cx="1119.9" cy="374.3" r="5.55" fill="#F8766D"/>
<circle cx="1124.2" cy="382.9" r="5.55" fill="#F8766D"/>
<circle cx="1129.3" cy="386.5" r="5.55" fill="#F8766D"/>
<circle cx="1094.7" cy="397.3" r="5.55" fill="#F8766D"/>
<circle cx="1101.9" cy="401.7" r="5.55" fill="#F8766D"/>
<circle cx="1076.0" cy="414.6" r="5.55" fill="#F8766D"/>
<circle cx="1084.7" cy="413.2" r="5.55" fill="#F8766D"/>
<circle cx="1080.4" cy="419.6" r="5.55" fill="#F8766D"/>
<circle cx="1046.2" cy="416.0" r="5.55" fill="#F8766D"/>
<circle cx="1032.2" cy="420.4" r="5.55" fill="#F8766D"/>
<circle cx="1037.2" cy="425.4" r="5.55" fill="#F8766D"/>
<circle cx="1093.3" cy="410.3" r="5.55" fill="#F8766D"/>
<circle cx="1032.5" cy="384.4" r="5.55" fill="#00BA38"/>
<circle cx="1079.6" cy="372.9" r="5.55" fill="#00BFC4"/>
<circle cx="1089.0" cy="379.7" r="5.55" fill="#00BFC4"/>
<circle cx="1061.7" cy="381.5" r="5.55" fill="#00BFC4"/>
<circle cx="1065.3" cy="384.4" r="5.55" fill="#00BFC4"/>
<circle cx="1071.7" cy="390.1" r="5.55" fill="#B79F00"/>
<circle cx="1125.7" cy="396.6" r="5.55" fill="#B79F00"/>
<circle cx="1051.6" cy="408.8" r="5.55" fill="#619CFF"/>
<circle cx="1053.7" cy="413.9" r="5.55" fill="#619CFF"/>
<circle cx="1058.8" cy="414.6" r="5.55" fill="#00BFC4"/>
<circle cx="1036.8" cy="415.7" r="5.55" fill="#00BA38"/>
<circle cx="1053.0" cy="422.9" r="5.55" fill="#00BFC4"/>
<circle cx="1062.4" cy="422.5" r="5.55" fill="#B79F00"/>
<circle cx="1067.4" cy="420.4" r="5.55" fill="#619CFF"/>
<circle cx="1074.6" cy="424.7" r="5.55" fill="#619CFF"/>
<circle cx="1092.2" cy="420.7" r="3.0" fill="#00BFC4"/>
<circle cx="1087.6" cy="426.8" r="4.0" fill="#B79F00"/>
<circle cx="1108.1" cy="415.7" r="2.5" fill="#F564E3"/>
<circle cx="1115.3" cy="422.5" r="3.0" fill="#F564E3"/>
<circle cx="1124.2" cy="422.5" r="5.55" fill="#B79F00"/>
<circle cx="1129.6" cy="426.8" r="4.0" fill="#F564E3"/>
<circle cx="1045.8" cy="429.4" r="5.55" fill="#B79F00"/>
<circle cx="1065.3" cy="429.9" r="5.55" fill="#00BFC4"/>
<circle cx="1075.3" cy="439.4" r="5.55" fill="#619CFF"/>
<circle cx="1055.9" cy="448.7" r="5.55" fill="#00BFC4"/>
<circle cx="1083.2" cy="449.4" r="5.55" fill="#F564E3"/>
<circle cx="1093.3" cy="458.8" r="5.55" fill="#F564E3"/>
<circle cx="1102.3" cy="471.0" r="5.55" fill="#F8766D"/>
<circle cx="1119.9" cy="453.7" r="5.55" fill="#F564E3"/>
<circle cx="1121.0" cy="460.2" r="5.55" fill="#F564E3"/>
<circle cx="1037.9" cy="434.3" r="5.55" fill="#F8766D"/>
<circle cx="1058.8" cy="442.2" r="5.55" fill="#F8766D"/>
<circle cx="1068.1" cy="440.8" r="5.55" fill="#F8766D"/>
<circle cx="1078.6" cy="453.7" r="5.55" fill="#F8766D"/>
<circle cx="1089.0" cy="451.6" r="5.55" fill="#F8766D"/>
<circle cx="1126.4" cy="444.4" r="5.55" fill="#F8766D"/>
<circle cx="1127.1" cy="454.5" r="5.55" fill="#F8766D"/>
<circle cx="1120.5" cy="474.6" r="5.55" fill="#F8766D"/>
<circle cx="1112.7" cy="462.4" r="5.55" fill="#F8766D"/>
<circle cx="1105.5" cy="458.8" r="5.55" fill="#F8766D"/>
<circle cx="1045.8" cy="432.2" r="5.55" fill="#B79F00"/>
<circle cx="1053.7" cy="434.0" r="5.55" fill="#619CFF"/>
<circle cx="1065.3" cy="433.6" r="5.55" fill="#00BFC4"/>
<circle cx="1076.8" cy="432.9" r="5.55" fill="#00BFC4"/>
<circle cx="1054.5" cy="450.9" r="5.55" fill="#00BA38"/>
<circle cx="1068.8" cy="450.5" r="5.55" fill="#00BA38"/>
<circle cx="1062.4" cy="453.0" r="5.55" fill="#B79F00"/>
<circle cx="1044.7" cy="455.5" r="5.55" fill="#B79F00"/>
<circle cx="1035.8" cy="461.3" r="5.55" fill="#B79F00"/>
<circle cx="1031.4" cy="471.0" r="5.55" fill="#B79F00"/>
<circle cx="1089.0" cy="440.8" r="5.55" fill="#B79F00"/>
<circle cx="1098.0" cy="445.8" r="5.55" fill="#00BFC4"/>
<circle cx="1101.9" cy="466.7" r="5.55" fill="#B79F00"/>
<circle cx="1119.2" cy="442.9" r="2.5" fill="#619CFF"/>
<circle cx="1122.8" cy="463.8" r="2.0" fill="#00BFC4"/>
<circle cx="1129.6" cy="438.6" r="5.55" fill="#00BA38"/>
<circle cx="1128.9" cy="461.7" r="3.5" fill="#00BA38"/>
<circle cx="1118.5" cy="431.1" r="4.0" fill="#F564E3"/>
<circle cx="1032.2" cy="488.6" r="5.55" fill="#F8766D"/>
<circle cx="1068.1" cy="487.9" r="5.55" fill="#F564E3"/>
<circle cx="1107.7" cy="489.9" r="5.55" fill="#B79F00"/>
<circle cx="1018.3" cy="374.0" r="5.55" fill="#B79F00"/>
<circle cx="1027.3" cy="374.0" r="5.55" fill="#00BFC4"/>
<circle cx="1014.7" cy="380.1" r="5.55" fill="#F8766D"/>
<circle cx="1014.3" cy="385.5" r="5.55" fill="#F8766D"/>
<circle cx="1004.2" cy="416.8" r="5.55" fill="#F8766D"/>
<circle cx="1012.9" cy="426.5" r="5.55" fill="#00BA38"/>
<circle cx="996.7" cy="421.4" r="5.55" fill="#B79F00"/>
<circle cx="1006.0" cy="421.8" r="5.55" fill="#B79F00"/>
<circle cx="1007.5" cy="426.8" r="5.55" fill="#B79F00"/>
<circle cx="1028.0" cy="419.6" r="5.55" fill="#F8766D"/>
<circle cx="1026.9" cy="429.4" r="5.55" fill="#F564E3"/>
<circle cx="1001.4" cy="441.5" r="5.55" fill="#B79F00"/>
<circle cx="1008.9" cy="457.7" r="5.55" fill="#F8766D"/>
<circle cx="1021.9" cy="465.3" r="5.55" fill="#F8766D"/>
<circle cx="1028.3" cy="464.5" r="5.55" fill="#F8766D"/>
<circle cx="1031.4" cy="471.0" r="5.55" fill="#B79F00"/>
<circle cx="1013.6" cy="475.7" r="5.55" fill="#B79F00"/>
<circle cx="1013.6" cy="479.3" r="5.55" fill="#B79F00"/>
<circle cx="990.2" cy="479.3" r="5.55" fill="#B79F00"/>
<circle cx="997.4" cy="488.4" r="5.55" fill="#00BFC4"/>
<circle cx="1116.6" cy="493.6" r="5.55" fill="#F8766D"/>
<circle cx="1088.6" cy="499.4" r="5.55" fill="#F8766D"/>
<circle cx="1097.9" cy="497.9" r="5.55" fill="#00BFC4"/>
<circle cx="1090.7" cy="504.4" r="5.55" fill="#00BFC4"/>
<circle cx="1082.1" cy="505.5" r="5.55" fill="#00BA38"/>
<circle cx="1105.8" cy="510.1" r="5.55" fill="#00BFC4"/>
<circle cx="1098.9" cy="508.7" r="5.55" fill="#F564E3"/>
<circle cx="1116.3" cy="511.3" r="5.55" fill="#00BA38"/>
<circle cx="1126.0" cy="513.5" r="5.55" fill="#F8766D"/>
<circle cx="1107.0" cy="524.2" r="5.55" fill="#B79F00"/>
<circle cx="1013.0" cy="491.4" r="5.55" fill="#F8766D"/>
<circle cx="1065.5" cy="493.6" r="5.55" fill="#00BA38"/>
<circle cx="1072.0" cy="492.5" r="5.55" fill="#F8766D"/>
<circle cx="1045.8" cy="500.1" r="5.55" fill="#F8766D"/>
<circle cx="1055.1" cy="498.6" r="5.55" fill="#F8766D"/>
<circle cx="1051.9" cy="496.1" r="5.55" fill="#B79F00"/>
<circle cx="1082.4" cy="505.5" r="5.55" fill="#00BA38"/>
<circle cx="1031.0" cy="518.1" r="5.55" fill="#B79F00"/>
<circle cx="1031.7" cy="512.3" r="5.55" fill="#F8766D"/>
<circle cx="1036.0" cy="514.5" r="5.55" fill="#F8766D"/>
<circle cx="1049.0" cy="516.3" r="5.55" fill="#F8766D"/>
<circle cx="1057.6" cy="518.8" r="5.55" fill="#00BA38"/>
<circle cx="1065.5" cy="514.1" r="5.55" fill="#F8766D"/>
<circle cx="1066.6" cy="522.7" r="5.55" fill="#B79F00"/>
<circle cx="1087.8" cy="523.1" r="5.55" fill="#F8766D"/>
<circle cx="994.3" cy="522.4" r="5.55" fill="#B79F00"/>
<circle cx="1026.7" cy="526.7" r="5.55" fill="#B79F00"/>
<circle cx="1021.7" cy="522.7" r="5.55" fill="#619CFF"/>
<circle cx="1021.3" cy="531.4" r="5.55" fill="#00BA38"/>
<circle cx="1002.9" cy="538.9" r="5.55" fill="#F8766D"/>
<circle cx="1005.5" cy="530.6" r="5.55" fill="#F564E3"/>
<circle cx="1012.7" cy="537.8" r="5.55" fill="#00BA38"/>
<circle cx="1032.4" cy="533.9" r="5.55" fill="#B79F00"/>
<circle cx="1036.0" cy="533.2" r="5.55" fill="#F8766D"/>
<circle cx="1044.3" cy="530.3" r="5.55" fill="#F8766D"/>
<circle cx="1058.3" cy="531.4" r="5.55" fill="#F8766D"/>
<circle cx="1067.0" cy="532.4" r="5.55" fill="#00BFC4"/>
<circle cx="1078.8" cy="528.1" r="5.55" fill="#00BA38"/>
<circle cx="1074.9" cy="533.2" r="5.55" fill="#00BA38"/>
<circle cx="1052.2" cy="540.4" r="5.55" fill="#00BA38"/>
<circle cx="1063.4" cy="542.9" r="5.55" fill="#F8766D"/>
<circle cx="1060.5" cy="545.4" r="5.55" fill="#B79F00"/>
<circle cx="1069.9" cy="549.0" r="5.55" fill="#00BA38"/>
<circle cx="1085.7" cy="548.6" r="5.55" fill="#00BFC4"/>
<circle cx="1051.9" cy="549.1" r="5.55" fill="#F8766D"/>
<circle cx="1031.4" cy="548.6" r="5.55" fill="#B79F00"/>
<circle cx="1008.7" cy="546.5" r="5.55" fill="#B79F00"/>
<circle cx="1015.2" cy="549.0" r="5.55" fill="#00BA38"/>
<circle cx="994.3" cy="546.1" r="5.55" fill="#00BFC4"/>
<circle cx="1001.5" cy="549.6" r="5.55" fill="#F8766D"/>
<circle cx="990.0" cy="557.6" r="5.55" fill="#00BFC4"/>
<circle cx="1055.1" cy="556.1" r="5.55" fill="#B79F00"/>
<circle cx="1083.9" cy="559.4" r="5.55" fill="#00BA38"/>
<circle cx="1029.6" cy="558.6" r="5.55" fill="#00BFC4"/>
<circle cx="1026.0" cy="568.7" r="5.55" fill="#619CFF"/>
<circle cx="1034.6" cy="571.2" r="5.55" fill="#00BA38"/>
<circle cx="999.4" cy="555.0" r="5.55" fill="#F8766D"/>
<circle cx="1008.7" cy="566.5" r="5.55" fill="#F8766D"/>
<circle cx="1013.7" cy="562.9" r="5.55" fill="#F8766D"/>
<circle cx="1020.9" cy="558.6" r="5.55" fill="#F8766D"/>
<circle cx="1021.7" cy="564.4" r="5.55" fill="#F8766D"/>
<circle cx="1032.4" cy="565.5" r="5.55" fill="#F8766D"/>
<circle cx="1005.1" cy="563.3" r="5.55" fill="#00BA38"/>
<circle cx="996.5" cy="570.9" r="5.55" fill="#00BFC4"/>
<circle cx="1040.0" cy="559.4" r="5.55" fill="#00BFC4"/>
<circle cx="1047.6" cy="565.5" r="5.55" fill="#00BFC4"/>
<circle cx="1042.5" cy="565.1" r="5.55" fill="#00BA38"/>
<circle cx="1040.0" cy="576.3" r="5.55" fill="#F8766D"/>
<circle cx="1004.7" cy="577.0" r="5.55" fill="#B79F00"/>
<circle cx="1013.0" cy="576.3" r="5.55" fill="#00BA38"/>
<circle cx="996.8" cy="582.0" r="5.55" fill="#B79F00"/>
<circle cx="1010.9" cy="587.4" r="5.55" fill="#00BA38"/>
<circle cx="1014.5" cy="583.8" r="5.55" fill="#00BFC4"/>
<circle cx="1023.1" cy="591.7" r="5.55" fill="#00BA38"/>
<circle cx="1050.8" cy="586.3" r="5.55" fill="#F8766D"/>
<circle cx="1063.4" cy="592.4" r="5.55" fill="#00BA38"/>
<circle cx="1057.3" cy="594.2" r="5.55" fill="#B79F00"/>
<circle cx="1049.0" cy="599.6" r="5.55" fill="#00BA38"/>
<circle cx="1044.7" cy="606.1" r="5.55" fill="#00BA38"/>
<circle cx="1014.5" cy="601.4" r="5.55" fill="#00BA38"/>
<circle cx="1007.3" cy="606.1" r="5.55" fill="#00BA38"/>
<circle cx="999.4" cy="609.7" r="5.55" fill="#00BA38"/>
<circle cx="1021.3" cy="606.5" r="5.55" fill="#B79F00"/>
<circle cx="1008.7" cy="616.9" r="5.55" fill="#00BA38"/>
<circle cx="999.4" cy="635.6" r="5.55" fill="#00BA38"/>
<circle cx="1165.3" cy="317.6" r="5.55" fill="#00BFC4"/>
<circle cx="1185.4" cy="356.4" r="5.55" fill="#B79F00"/>
<circle cx="1193.3" cy="358.6" r="2.5" fill="#00BFC4"/>
<circle cx="1163.1" cy="365.8" r="5.55" fill="#00BFC4"/>
<circle cx="900.4" cy="246.3" r="5.55" fill="#00BA38"/>
<circle cx="910.9" cy="244.4" r="5.55" fill="#F8766D"/>
<circle cx="919.5" cy="235.8" r="5.55" fill="#B79F00"/>
<circle cx="928.1" cy="244.4" r="5.55" fill="#00BFC4"/>
<circle cx="918.1" cy="251.6" r="5.55" fill="#B79F00"/>
<circle cx="930.6" cy="252.6" r="5.55" fill="#F8766D"/>
<circle cx="1067.9" cy="488.6" r="5.55" fill="#F564E3"/>
<circle cx="1091.9" cy="404.5" r="5.55" fill="#B79F00"/>
<circle cx="1084.7" cy="413.2" r="5.55" fill="#F8766D"/>
<circle cx="1136.8" cy="368.7" r="5.55" fill="#F8766D"/>
</g>
</svg></body></html>
